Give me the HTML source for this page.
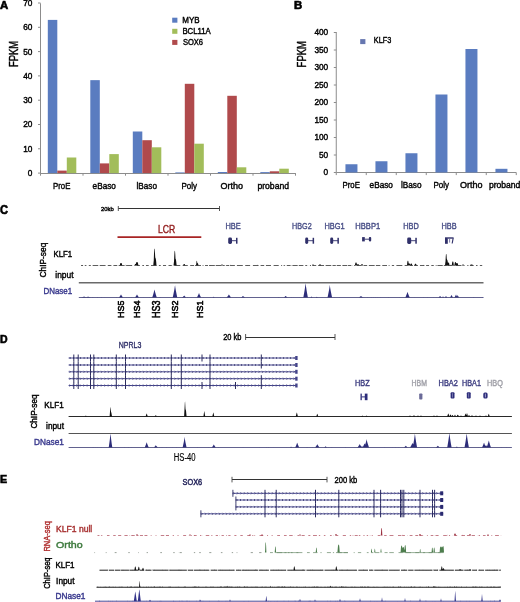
<!DOCTYPE html>
<html><head><meta charset="utf-8"><style>
html,body{margin:0;padding:0;background:#fff;}
svg{display:block;font-family:"Liberation Sans", sans-serif;will-change:transform;}
</style></head><body>
<svg width="520" height="602" viewBox="0 0 520 602">
<rect width="520" height="602" fill="#fff"/>
<text x="0.00" y="8.60" font-size="10.43" fill="#000" font-weight="bold" textLength="8.20" lengthAdjust="spacingAndGlyphs" stroke="#000" stroke-width="0.6">A</text>
<line x1="40.50" y1="3.30" x2="40.50" y2="173.10" stroke="#8c8c8c" stroke-width="1"/>
<line x1="38.00" y1="173.10" x2="40.50" y2="173.10" stroke="#8c8c8c" stroke-width="1"/>
<text x="27.80" y="176.05" font-size="8.43" fill="#000" font-weight="normal" textLength="4.60" lengthAdjust="spacingAndGlyphs" stroke="#000" stroke-width="0.4">0</text>
<line x1="38.00" y1="148.80" x2="40.50" y2="148.80" stroke="#8c8c8c" stroke-width="1"/>
<text x="23.20" y="151.75" font-size="8.43" fill="#000" font-weight="normal" textLength="9.20" lengthAdjust="spacingAndGlyphs" stroke="#000" stroke-width="0.4">10</text>
<line x1="38.00" y1="124.50" x2="40.50" y2="124.50" stroke="#8c8c8c" stroke-width="1"/>
<text x="23.20" y="127.45" font-size="8.43" fill="#000" font-weight="normal" textLength="9.20" lengthAdjust="spacingAndGlyphs" stroke="#000" stroke-width="0.4">20</text>
<line x1="38.00" y1="100.20" x2="40.50" y2="100.20" stroke="#8c8c8c" stroke-width="1"/>
<text x="23.20" y="103.15" font-size="8.43" fill="#000" font-weight="normal" textLength="9.20" lengthAdjust="spacingAndGlyphs" stroke="#000" stroke-width="0.4">30</text>
<line x1="38.00" y1="75.90" x2="40.50" y2="75.90" stroke="#8c8c8c" stroke-width="1"/>
<text x="23.20" y="78.85" font-size="8.43" fill="#000" font-weight="normal" textLength="9.20" lengthAdjust="spacingAndGlyphs" stroke="#000" stroke-width="0.4">40</text>
<line x1="38.00" y1="51.60" x2="40.50" y2="51.60" stroke="#8c8c8c" stroke-width="1"/>
<text x="23.20" y="54.55" font-size="8.43" fill="#000" font-weight="normal" textLength="9.20" lengthAdjust="spacingAndGlyphs" stroke="#000" stroke-width="0.4">50</text>
<line x1="38.00" y1="27.30" x2="40.50" y2="27.30" stroke="#8c8c8c" stroke-width="1"/>
<text x="23.20" y="30.25" font-size="8.43" fill="#000" font-weight="normal" textLength="9.20" lengthAdjust="spacingAndGlyphs" stroke="#000" stroke-width="0.4">60</text>
<line x1="38.00" y1="3.00" x2="40.50" y2="3.00" stroke="#8c8c8c" stroke-width="1"/>
<text x="23.20" y="5.95" font-size="8.43" fill="#000" font-weight="normal" textLength="9.20" lengthAdjust="spacingAndGlyphs" stroke="#000" stroke-width="0.4">70</text>
<line x1="40.50" y1="173.50" x2="295.50" y2="173.50" stroke="#8c8c8c" stroke-width="1"/>
<line x1="83.00" y1="173.10" x2="83.00" y2="175.70" stroke="#8c8c8c" stroke-width="1"/>
<line x1="40.50" y1="173.10" x2="40.50" y2="175.70" stroke="#8c8c8c" stroke-width="1"/>
<rect x="47.80" y="19.90" width="9.50" height="153.20" fill="#5a7cc0"/>
<rect x="57.30" y="170.60" width="9.50" height="2.50" fill="#b04a4c"/>
<rect x="66.80" y="157.50" width="9.50" height="15.60" fill="#a2bd5a"/>
<text x="53.10" y="188.50" font-size="9.13" fill="#000" font-weight="normal" textLength="17.30" lengthAdjust="spacingAndGlyphs" stroke="#000" stroke-width="0.4">ProE</text>
<line x1="125.50" y1="173.10" x2="125.50" y2="175.70" stroke="#8c8c8c" stroke-width="1"/>
<rect x="90.30" y="80.15" width="9.50" height="92.95" fill="#5a7cc0"/>
<rect x="99.80" y="163.40" width="9.50" height="9.70" fill="#b04a4c"/>
<rect x="109.30" y="154.10" width="9.50" height="19.00" fill="#a2bd5a"/>
<text x="92.60" y="188.50" font-size="9.13" fill="#000" font-weight="normal" textLength="23.30" lengthAdjust="spacingAndGlyphs" stroke="#000" stroke-width="0.4">eBaso</text>
<line x1="168.00" y1="173.10" x2="168.00" y2="175.70" stroke="#8c8c8c" stroke-width="1"/>
<rect x="132.80" y="131.50" width="9.50" height="41.60" fill="#5a7cc0"/>
<rect x="142.30" y="140.20" width="9.50" height="32.90" fill="#b04a4c"/>
<rect x="151.80" y="147.30" width="9.50" height="25.80" fill="#a2bd5a"/>
<text x="136.50" y="188.50" font-size="9.13" fill="#000" font-weight="normal" textLength="20.50" lengthAdjust="spacingAndGlyphs" stroke="#000" stroke-width="0.4">lBaso</text>
<line x1="210.50" y1="173.10" x2="210.50" y2="175.70" stroke="#8c8c8c" stroke-width="1"/>
<rect x="175.30" y="172.40" width="9.50" height="0.70" fill="#5a7cc0"/>
<rect x="184.80" y="83.80" width="9.50" height="89.30" fill="#b04a4c"/>
<rect x="194.30" y="143.70" width="9.50" height="29.40" fill="#a2bd5a"/>
<text x="181.50" y="188.50" font-size="9.13" fill="#000" font-weight="normal" textLength="15.50" lengthAdjust="spacingAndGlyphs" stroke="#000" stroke-width="0.4">Poly</text>
<line x1="253.00" y1="173.10" x2="253.00" y2="175.70" stroke="#8c8c8c" stroke-width="1"/>
<rect x="217.80" y="172.00" width="9.50" height="1.10" fill="#5a7cc0"/>
<rect x="227.30" y="95.80" width="9.50" height="77.30" fill="#b04a4c"/>
<rect x="236.80" y="167.30" width="9.50" height="5.80" fill="#a2bd5a"/>
<text x="220.50" y="188.50" font-size="9.13" fill="#000" font-weight="normal" textLength="22.50" lengthAdjust="spacingAndGlyphs" stroke="#000" stroke-width="0.4">Ortho</text>
<line x1="295.50" y1="173.10" x2="295.50" y2="175.70" stroke="#8c8c8c" stroke-width="1"/>
<rect x="260.30" y="172.10" width="9.50" height="1.00" fill="#5a7cc0"/>
<rect x="269.80" y="171.30" width="9.50" height="1.80" fill="#b04a4c"/>
<rect x="279.30" y="168.70" width="9.50" height="4.40" fill="#a2bd5a"/>
<text x="257.40" y="188.50" font-size="9.13" fill="#000" font-weight="normal" textLength="31.70" lengthAdjust="spacingAndGlyphs" stroke="#000" stroke-width="0.4">proband</text>
<text transform="translate(17.80,67.00) rotate(-90)" x="0" y="0" font-size="11.88" fill="#000" font-weight="normal" textLength="26.20" lengthAdjust="spacingAndGlyphs" stroke="#000" stroke-width="0.4">FPKM</text>
<rect x="172.20" y="17.70" width="5.20" height="5.00" fill="#5a7cc0"/>
<text x="182.30" y="23.20" font-size="8.70" fill="#000" font-weight="normal" textLength="17.30" lengthAdjust="spacingAndGlyphs" stroke="#000" stroke-width="0.4">MYB</text>
<rect x="172.20" y="28.80" width="5.20" height="5.00" fill="#a2bd5a"/>
<text x="182.40" y="34.30" font-size="8.70" fill="#000" font-weight="normal" textLength="28.40" lengthAdjust="spacingAndGlyphs" stroke="#000" stroke-width="0.4">BCL11A</text>
<rect x="172.20" y="39.90" width="5.20" height="5.00" fill="#b04a4c"/>
<text x="182.90" y="45.40" font-size="8.70" fill="#000" font-weight="normal" textLength="20.20" lengthAdjust="spacingAndGlyphs" stroke="#000" stroke-width="0.4">SOX6</text>
<text x="294.00" y="8.50" font-size="10.87" fill="#000" font-weight="bold" textLength="8.20" lengthAdjust="spacingAndGlyphs" stroke="#000" stroke-width="0.6">B</text>
<line x1="336.25" y1="32.00" x2="336.25" y2="172.50" stroke="#8c8c8c" stroke-width="1"/>
<line x1="333.80" y1="172.50" x2="336.25" y2="172.50" stroke="#8c8c8c" stroke-width="1"/>
<text x="323.60" y="175.45" font-size="8.43" fill="#000" font-weight="normal" textLength="4.60" lengthAdjust="spacingAndGlyphs" stroke="#000" stroke-width="0.4">0</text>
<line x1="333.80" y1="155.00" x2="336.25" y2="155.00" stroke="#8c8c8c" stroke-width="1"/>
<text x="319.00" y="157.95" font-size="8.43" fill="#000" font-weight="normal" textLength="9.20" lengthAdjust="spacingAndGlyphs" stroke="#000" stroke-width="0.4">50</text>
<line x1="333.80" y1="137.50" x2="336.25" y2="137.50" stroke="#8c8c8c" stroke-width="1"/>
<text x="314.40" y="140.45" font-size="8.43" fill="#000" font-weight="normal" textLength="13.80" lengthAdjust="spacingAndGlyphs" stroke="#000" stroke-width="0.4">100</text>
<line x1="333.80" y1="120.00" x2="336.25" y2="120.00" stroke="#8c8c8c" stroke-width="1"/>
<text x="314.40" y="122.95" font-size="8.43" fill="#000" font-weight="normal" textLength="13.80" lengthAdjust="spacingAndGlyphs" stroke="#000" stroke-width="0.4">150</text>
<line x1="333.80" y1="102.50" x2="336.25" y2="102.50" stroke="#8c8c8c" stroke-width="1"/>
<text x="314.40" y="105.45" font-size="8.43" fill="#000" font-weight="normal" textLength="13.80" lengthAdjust="spacingAndGlyphs" stroke="#000" stroke-width="0.4">200</text>
<line x1="333.80" y1="85.00" x2="336.25" y2="85.00" stroke="#8c8c8c" stroke-width="1"/>
<text x="314.40" y="87.95" font-size="8.43" fill="#000" font-weight="normal" textLength="13.80" lengthAdjust="spacingAndGlyphs" stroke="#000" stroke-width="0.4">250</text>
<line x1="333.80" y1="67.50" x2="336.25" y2="67.50" stroke="#8c8c8c" stroke-width="1"/>
<text x="314.40" y="70.45" font-size="8.43" fill="#000" font-weight="normal" textLength="13.80" lengthAdjust="spacingAndGlyphs" stroke="#000" stroke-width="0.4">300</text>
<line x1="333.80" y1="50.00" x2="336.25" y2="50.00" stroke="#8c8c8c" stroke-width="1"/>
<text x="314.40" y="52.95" font-size="8.43" fill="#000" font-weight="normal" textLength="13.80" lengthAdjust="spacingAndGlyphs" stroke="#000" stroke-width="0.4">350</text>
<line x1="333.80" y1="32.50" x2="336.25" y2="32.50" stroke="#8c8c8c" stroke-width="1"/>
<text x="314.40" y="35.45" font-size="8.43" fill="#000" font-weight="normal" textLength="13.80" lengthAdjust="spacingAndGlyphs" stroke="#000" stroke-width="0.4">400</text>
<line x1="336.25" y1="172.50" x2="516.25" y2="172.50" stroke="#8c8c8c" stroke-width="1"/>
<line x1="366.25" y1="172.50" x2="366.25" y2="175.10" stroke="#8c8c8c" stroke-width="1"/>
<line x1="336.25" y1="172.50" x2="336.25" y2="175.10" stroke="#8c8c8c" stroke-width="1"/>
<rect x="345.45" y="164.25" width="12.00" height="8.25" fill="#5a7cc0"/>
<text x="342.60" y="188.00" font-size="8.99" fill="#000" font-weight="normal" textLength="17.30" lengthAdjust="spacingAndGlyphs" stroke="#000" stroke-width="0.4">ProE</text>
<line x1="396.25" y1="172.50" x2="396.25" y2="175.10" stroke="#8c8c8c" stroke-width="1"/>
<rect x="375.45" y="161.25" width="12.00" height="11.25" fill="#5a7cc0"/>
<text x="369.60" y="188.00" font-size="8.99" fill="#000" font-weight="normal" textLength="23.30" lengthAdjust="spacingAndGlyphs" stroke="#000" stroke-width="0.4">eBaso</text>
<line x1="426.25" y1="172.50" x2="426.25" y2="175.10" stroke="#8c8c8c" stroke-width="1"/>
<rect x="405.45" y="153.25" width="12.00" height="19.25" fill="#5a7cc0"/>
<text x="401.00" y="188.00" font-size="8.99" fill="#000" font-weight="normal" textLength="20.50" lengthAdjust="spacingAndGlyphs" stroke="#000" stroke-width="0.4">lBaso</text>
<line x1="456.25" y1="172.50" x2="456.25" y2="175.10" stroke="#8c8c8c" stroke-width="1"/>
<rect x="435.45" y="94.50" width="12.00" height="78.00" fill="#5a7cc0"/>
<text x="433.50" y="188.00" font-size="8.99" fill="#000" font-weight="normal" textLength="15.50" lengthAdjust="spacingAndGlyphs" stroke="#000" stroke-width="0.4">Poly</text>
<line x1="486.25" y1="172.50" x2="486.25" y2="175.10" stroke="#8c8c8c" stroke-width="1"/>
<rect x="465.45" y="49.00" width="12.00" height="123.50" fill="#5a7cc0"/>
<text x="460.00" y="188.00" font-size="8.99" fill="#000" font-weight="normal" textLength="22.50" lengthAdjust="spacingAndGlyphs" stroke="#000" stroke-width="0.4">Ortho</text>
<line x1="516.25" y1="172.50" x2="516.25" y2="175.10" stroke="#8c8c8c" stroke-width="1"/>
<rect x="495.45" y="168.80" width="12.00" height="3.70" fill="#5a7cc0"/>
<text x="488.90" y="188.00" font-size="8.99" fill="#000" font-weight="normal" textLength="31.50" lengthAdjust="spacingAndGlyphs" stroke="#000" stroke-width="0.4">proband</text>
<text transform="translate(306.00,67.40) rotate(-90)" x="0" y="0" font-size="12.17" fill="#000" font-weight="normal" textLength="26.40" lengthAdjust="spacingAndGlyphs" stroke="#000" stroke-width="0.4">FPKM</text>
<rect x="360.20" y="39.10" width="5.20" height="5.00" fill="#6677b0"/>
<text x="373.80" y="43.00" font-size="8.70" fill="#000" font-weight="normal" textLength="17.40" lengthAdjust="spacingAndGlyphs" stroke="#000" stroke-width="0.4">KLF3</text>
<text x="0.00" y="213.70" font-size="12.61" fill="#000" font-weight="bold" textLength="8.00" lengthAdjust="spacingAndGlyphs" stroke="#000" stroke-width="0.6">C</text>
<text x="101.00" y="210.70" font-size="6.23" fill="#000" font-weight="normal" textLength="12.80" lengthAdjust="spacingAndGlyphs" stroke="#000" stroke-width="0.4">20kb</text>
<line x1="118.30" y1="208.50" x2="219.50" y2="208.50" stroke="#333" stroke-width="1.0"/>
<line x1="118.30" y1="206.00" x2="118.30" y2="211.00" stroke="#444" stroke-width="0.9"/>
<line x1="219.50" y1="206.00" x2="219.50" y2="211.00" stroke="#444" stroke-width="0.9"/>
<text x="158.00" y="233.00" font-size="10.29" fill="#921c1c" font-weight="normal" textLength="17.20" lengthAdjust="spacingAndGlyphs" stroke="#921c1c" stroke-width="0.4">LCR</text>
<line x1="117.50" y1="237.10" x2="201.30" y2="237.10" stroke="#a82424" stroke-width="1.8"/>
<text x="225.50" y="228.60" font-size="8.99" fill="#4a5088" font-weight="normal" textLength="15.30" lengthAdjust="spacingAndGlyphs" stroke="#4a5088" stroke-width="0.4">HBE</text>
<text x="292.10" y="228.60" font-size="8.99" fill="#4a5088" font-weight="normal" textLength="19.60" lengthAdjust="spacingAndGlyphs" stroke="#4a5088" stroke-width="0.4">HBG2</text>
<text x="324.40" y="228.60" font-size="8.99" fill="#4a5088" font-weight="normal" textLength="20.20" lengthAdjust="spacingAndGlyphs" stroke="#4a5088" stroke-width="0.4">HBG1</text>
<text x="355.30" y="228.60" font-size="8.99" fill="#4a5088" font-weight="normal" textLength="24.90" lengthAdjust="spacingAndGlyphs" stroke="#4a5088" stroke-width="0.4">HBBP1</text>
<text x="403.20" y="228.60" font-size="8.99" fill="#4a5088" font-weight="normal" textLength="15.60" lengthAdjust="spacingAndGlyphs" stroke="#4a5088" stroke-width="0.4">HBD</text>
<text x="441.50" y="228.60" font-size="8.99" fill="#4a5088" font-weight="normal" textLength="15.10" lengthAdjust="spacingAndGlyphs" stroke="#4a5088" stroke-width="0.4">HBB</text>
<rect x="228.20" y="237.50" width="3.80" height="6.40" rx="1.4" fill="#30306a"/>
<line x1="231.80" y1="240.70" x2="236.60" y2="240.70" stroke="#30306a" stroke-width="0.9"/>
<rect x="236.00" y="237.80" width="1.5" height="5.90" fill="#30306a"/>
<rect x="305.20" y="237.50" width="3.00" height="6.40" rx="1.4" fill="#30306a"/>
<line x1="308.00" y1="240.70" x2="313.20" y2="240.70" stroke="#30306a" stroke-width="0.9"/>
<rect x="312.60" y="237.80" width="1.5" height="5.90" fill="#30306a"/>
<rect x="330.20" y="237.50" width="3.00" height="6.40" rx="1.4" fill="#30306a"/>
<line x1="333.00" y1="240.70" x2="338.00" y2="240.70" stroke="#30306a" stroke-width="0.9"/>
<rect x="337.40" y="237.80" width="1.5" height="5.90" fill="#30306a"/>
<rect x="407.20" y="237.50" width="4.00" height="6.40" rx="1.4" fill="#30306a"/>
<line x1="411.00" y1="240.70" x2="415.90" y2="240.70" stroke="#30306a" stroke-width="0.9"/>
<rect x="415.30" y="237.80" width="1.5" height="5.90" fill="#30306a"/>
<rect x="362.1" y="237.1" width="2.7" height="4.3" fill="#30306a"/>
<line x1="364.5" y1="239.2" x2="369" y2="239.2" stroke="#30306a" stroke-width="0.9"/>
<rect x="368.9" y="237.1" width="2.3" height="4.3" rx="0.8" fill="#30306a"/>
<rect x="445.0" y="237.3" width="2.8" height="6.5" fill="#30306a"/>
<rect x="447.6" y="237.3" width="6.0" height="1.4" fill="#30306a"/>
<path d="M452.6,238.2 L453.7,238.2 L452.7,243.6 L451.6,243.6 Z" fill="#30306a"/>
<rect x="449.2" y="238.6" width="0.9" height="4.0" fill="#7070a0"/>
<text transform="translate(46.30,277.40) rotate(-90)" x="0" y="0" font-size="8.41" fill="#000" font-weight="normal" textLength="34.70" lengthAdjust="spacingAndGlyphs" stroke="#000" stroke-width="0.4">ChIP-seq</text>
<text x="53.60" y="256.70" font-size="8.84" fill="#000" font-weight="normal" textLength="18.60" lengthAdjust="spacingAndGlyphs" stroke="#000" stroke-width="0.4">KLF1</text>
<text x="55.30" y="277.80" font-size="9.13" fill="#000" font-weight="normal" textLength="18.30" lengthAdjust="spacingAndGlyphs" stroke="#000" stroke-width="0.4">input</text>
<text x="43.40" y="293.50" font-size="8.99" fill="#3a3a8e" font-weight="normal" textLength="28.80" lengthAdjust="spacingAndGlyphs" stroke="#3a3a8e" stroke-width="0.4">DNase1</text>
<polygon points="81.00,265.50 82.25,265.50 82.50,264.66 82.75,265.50 108.75,265.50 109.00,265.08 109.25,265.50 109.50,264.88 109.75,265.50 111.50,265.50 111.75,265.44 112.00,265.50 115.00,265.50 115.25,264.93 115.50,265.50 119.75,265.50 120.00,264.40 120.25,263.53 120.50,263.09 120.75,262.92 121.00,262.90 121.25,262.92 121.50,263.09 121.75,263.53 122.00,264.40 122.25,265.50 125.50,265.50 125.75,264.56 126.00,265.50 131.75,265.50 132.00,264.75 132.25,265.50 134.50,265.50 134.75,264.63 135.00,264.19 135.25,264.02 135.50,264.00 135.75,264.02 136.00,263.28 136.25,262.54 136.50,262.16 136.75,262.02 137.00,262.00 137.25,262.02 137.50,262.16 137.75,262.54 138.00,263.28 138.25,264.49 138.50,265.50 139.50,265.50 139.75,265.45 140.00,265.50 153.25,265.50 153.50,262.86 153.75,260.47 154.00,253.54 154.25,249.13 154.50,248.50 154.75,249.13 155.00,253.54 155.25,257.58 155.50,257.92 155.75,258.70 156.00,260.10 156.25,262.31 156.50,265.50 171.75,265.50 172.00,265.02 172.25,265.50 173.50,265.50 173.75,263.60 174.00,261.26 174.25,256.60 174.50,251.74 174.75,250.80 175.00,251.08 175.25,253.98 175.50,258.63 175.75,259.07 176.00,260.01 176.25,261.65 176.50,264.19 176.75,265.50 183.00,265.50 183.25,265.27 183.50,264.45 183.75,264.05 184.00,263.91 184.25,263.90 184.50,263.94 184.75,264.17 185.00,264.72 185.25,265.50 195.75,265.50 196.00,264.97 196.25,263.98 196.50,261.39 196.75,260.80 197.00,260.97 197.25,262.78 197.50,263.03 197.75,263.19 198.00,263.58 198.25,264.32 198.50,265.50 210.00,265.50 210.25,264.73 210.50,265.50 221.00,265.50 221.25,264.92 221.50,264.62 221.75,264.52 222.00,264.50 222.25,264.52 222.50,264.62 222.75,264.92 223.00,265.50 225.25,265.50 225.50,265.29 225.75,265.50 227.50,265.50 227.75,265.39 228.00,265.50 228.50,265.50 228.75,265.05 229.00,265.50 230.00,265.50 230.25,264.53 230.50,265.50 247.25,265.50 247.50,265.03 247.75,265.50 254.00,265.50 254.25,265.27 254.50,265.50 257.50,265.50 257.75,264.53 258.00,265.50 281.50,265.50 281.75,265.37 282.00,265.50 284.75,265.50 285.00,265.07 285.25,265.50 291.00,265.50 291.25,264.86 291.50,265.50 307.75,265.50 308.00,265.22 308.25,265.50 312.00,265.50 312.25,264.92 312.50,264.62 312.75,264.52 313.00,264.50 313.25,264.52 313.50,264.62 313.75,264.92 314.00,265.50 319.00,265.50 319.25,264.81 319.50,264.45 319.75,264.32 320.00,264.30 320.25,264.32 320.50,264.45 320.75,264.81 321.00,265.50 325.50,265.50 325.75,264.63 326.00,265.50 343.00,265.50 343.25,264.96 343.50,265.50 347.75,265.50 348.00,265.15 348.25,264.67 348.50,265.50 352.25,265.50 352.50,265.02 352.75,265.50 354.75,265.50 355.00,264.75 355.25,263.45 355.50,262.78 355.75,262.54 356.00,262.50 356.25,262.54 356.50,262.78 356.75,263.45 357.00,264.75 357.25,264.63 357.50,264.19 357.75,264.02 358.00,264.00 358.25,264.02 358.50,264.19 358.75,264.63 359.00,265.50 361.00,265.50 361.25,264.63 361.50,264.19 361.75,264.02 362.00,264.00 362.25,264.02 362.50,264.19 362.75,264.63 363.00,265.50 382.00,265.50 382.25,264.82 382.50,265.50 407.00,265.50 407.25,262.57 407.50,261.21 407.75,260.82 408.00,260.81 408.25,261.08 408.50,262.19 408.75,263.51 409.00,263.50 409.25,263.51 409.50,263.57 409.75,263.75 410.00,264.09 410.25,264.66 410.50,264.52 410.75,263.83 411.00,263.55 411.25,263.50 411.50,263.52 411.75,263.68 412.00,264.19 412.25,265.21 412.50,265.50 414.25,265.50 414.50,265.09 414.75,264.41 415.00,264.09 415.25,263.78 415.50,263.70 415.75,263.71 416.00,263.82 416.25,264.19 416.50,265.01 416.75,265.50 423.50,265.50 423.75,265.03 424.00,264.79 424.25,265.50 430.25,265.50 430.50,265.43 430.75,265.50 432.50,265.50 432.75,265.19 433.00,265.50 445.00,265.50 445.25,263.10 445.50,261.45 445.75,256.41 446.00,254.12 446.25,253.90 446.50,254.64 446.75,258.47 447.00,259.59 447.25,259.90 447.50,260.57 447.75,261.73 448.00,262.88 448.25,262.55 448.50,262.50 448.75,262.55 449.00,262.88 449.25,263.77 449.50,265.50 450.50,265.50 450.75,264.55 451.00,265.50 451.75,265.50 452.00,263.55 452.25,262.17 452.50,261.61 452.75,261.50 453.00,261.53 453.25,261.86 453.50,262.87 453.75,264.93 454.00,265.50 454.25,265.50 454.50,264.55 454.75,262.96 455.00,262.22 455.25,262.01 455.50,262.00 455.75,262.15 456.00,262.76 456.25,263.61 456.50,263.18 456.75,263.02 457.00,263.00 457.25,263.02 457.50,263.18 457.75,263.61 458.00,264.45 458.25,265.50 462.00,265.50 462.25,264.92 462.50,264.62 462.75,264.52 463.00,264.50 463.25,264.52 463.50,264.62 463.75,264.63 464.00,265.50 469.75,265.50 470.00,264.96 470.25,265.08 470.50,264.80 470.75,264.62 471.00,264.54 471.25,264.50 471.50,264.50 471.75,264.50 472.00,264.54 472.25,264.62 472.50,264.80 472.75,265.08 473.00,265.50 479.00,265.50 479.25,265.29 479.50,265.50 481.75,265.50 482.00,265.31 482.25,265.50 483.50,265.50" fill="#111"/>
<path d="M81.00,265.50h2.07M84.77,265.50h1.64M88.82,265.50h2.00M92.64,265.50h5.62M99.73,265.50h5.83M107.77,265.50h3.65M113.41,265.50h3.85M118.65,265.50h5.98M126.12,265.50h5.92M134.51,265.50h0.95M136.62,265.50h3.28M142.30,265.50h1.72M145.98,265.50h2.71M151.02,265.50h5.62M158.91,265.50h1.81M162.99,265.50h3.08M168.51,265.50h3.24M174.35,265.50h5.93M182.69,265.50h5.10M190.19,265.50h3.88M195.05,265.50h5.93M202.60,265.50h0.88M205.04,265.50h2.96M209.04,265.50h5.79M215.68,265.50h5.50M222.99,265.50h1.73M226.11,265.50h3.14M230.11,265.50h4.77M236.91,265.50h5.91M245.24,265.50h4.89M252.92,265.50h5.65M260.59,265.50h3.60M265.94,265.50h5.03M273.61,265.50h5.12M281.18,265.50h0.94M283.64,265.50h1.25M286.78,265.50h3.82M292.43,265.50h5.26M298.79,265.50h4.59M305.27,265.50h1.91M309.93,265.50h1.08M312.63,265.50h3.58M318.13,265.50h5.91M325.85,265.50h5.41M332.51,265.50h3.30M336.73,265.50h4.13M342.39,265.50h4.88M348.12,265.50h3.21M354.04,265.50h0.86M356.95,265.50h4.32M363.47,265.50h3.70M368.87,265.50h5.79M375.88,265.50h4.46M382.41,265.50h4.59M388.65,265.50h0.89M391.85,265.50h2.25M396.42,265.50h5.93M404.66,265.50h2.90M410.04,265.50h2.81M414.15,265.50h3.77M419.96,265.50h4.37M426.14,265.50h2.93M431.30,265.50h2.49M435.72,265.50h0.83M437.44,265.50h5.31M443.82,265.50h2.95M447.49,265.50h4.78M453.59,265.50h1.05M455.84,265.50h5.64M463.75,265.50h0.82M467.26,265.50h1.18M470.10,265.50h3.58M476.00,265.50h1.54M479.95,265.50h2.23" stroke="#333" stroke-width="0.8" fill="none"/>
<line x1="78.80" y1="282.70" x2="483.50" y2="282.70" stroke="#6a6a6a" stroke-width="1.4"/>
<polygon points="78.80,297.50 80.05,297.50 80.30,297.17 80.55,297.50 81.05,297.49 81.30,297.42 81.55,297.35 81.80,297.29 82.05,297.22 82.30,297.15 82.55,297.07 82.80,296.99 83.05,296.92 83.30,296.83 83.55,296.74 83.80,296.64 84.05,296.56 84.30,296.68 84.55,296.78 84.80,296.87 85.05,296.95 85.30,297.03 85.55,297.10 85.80,297.17 86.05,297.24 86.30,297.24 86.55,297.16 86.80,297.07 87.05,296.98 87.30,296.88 87.55,296.77 87.80,296.66 88.05,296.57 88.30,296.71 88.55,296.82 88.80,296.92 89.05,297.01 89.30,297.10 89.55,297.19 89.80,297.28 90.05,297.03 90.30,297.44 90.55,297.50 92.30,297.50 92.55,296.98 92.80,297.50 93.05,296.95 93.30,297.50 97.30,297.50 97.55,296.84 97.80,297.50 101.30,297.50 101.55,296.81 101.80,297.50 103.80,297.50 104.05,297.15 104.30,297.50 116.05,297.50 116.30,297.12 116.55,297.50 118.80,297.50 119.05,297.44 119.30,297.12 119.55,296.79 119.80,296.45 120.05,296.09 120.30,295.72 120.55,295.32 120.80,294.86 121.05,294.53 121.30,295.05 121.55,295.48 121.80,295.87 122.05,296.24 122.30,296.59 122.55,296.92 122.80,297.25 123.05,297.50 124.80,297.50 125.05,297.39 125.30,297.50 126.30,297.50 126.55,297.17 126.80,297.50 128.05,297.50 128.30,297.17 128.55,297.50 129.55,297.50 129.80,297.22 130.05,297.50 131.05,297.50 131.30,297.07 131.55,297.50 134.80,297.50 135.05,297.44 135.30,297.10 135.55,296.77 135.80,296.41 136.05,296.05 136.30,295.66 136.55,295.24 136.80,294.77 137.05,294.43 137.30,294.97 137.55,295.41 137.80,295.82 138.05,296.19 138.30,296.56 138.55,296.90 138.80,297.24 139.05,297.50 143.30,297.50 143.55,297.13 143.80,297.50 149.55,297.50 149.80,297.32 150.05,297.50 150.80,297.50 151.05,296.96 151.30,297.50 152.05,297.50 152.30,297.21 152.55,296.46 152.80,295.69 153.05,294.90 153.30,294.08 153.55,293.23 153.80,292.33 154.05,291.36 154.30,290.27 154.55,289.47 154.80,290.73 155.05,291.76 155.30,292.70 155.55,293.57 155.80,294.41 156.05,295.22 156.30,296.00 156.55,296.76 156.80,297.50 159.05,297.50 159.30,296.99 159.55,297.50 160.05,297.50 160.30,296.91 160.55,297.50 163.30,297.50 163.55,297.42 163.80,297.50 172.55,297.50 172.80,297.05 173.05,295.92 173.30,294.76 173.55,293.57 173.80,292.33 174.05,291.04 174.30,289.68 174.55,288.21 174.80,286.56 175.05,285.35 175.30,287.25 175.55,288.81 175.80,290.23 176.05,291.56 176.30,292.83 176.55,294.05 176.80,295.23 177.05,296.38 177.30,297.50 181.80,297.50 182.05,297.36 182.30,296.88 182.55,297.35 182.80,297.11 183.05,296.85 183.30,296.58 183.55,296.30 183.80,295.99 184.05,295.64 184.30,295.55 184.55,295.92 184.80,296.24 185.05,296.53 185.30,296.80 185.55,297.06 185.80,297.31 186.05,297.50 187.30,297.50 187.55,296.85 187.80,297.50 190.80,297.50 191.05,297.34 191.30,297.50 195.80,297.50 196.05,297.12 196.30,297.50 196.80,297.50 197.05,297.23 197.30,296.78 197.55,296.31 197.80,295.82 198.05,295.32 198.30,294.78 198.55,294.21 198.80,293.56 199.05,293.09 199.30,293.84 199.55,294.45 199.80,295.00 200.05,295.52 200.30,296.02 200.55,296.50 200.80,296.96 201.05,297.41 201.30,297.50 203.55,297.50 203.80,297.12 204.05,297.50 210.05,297.50 210.30,297.36 210.55,297.50 212.55,297.50 212.80,297.36 213.05,297.17 213.30,296.97 213.55,296.71 213.80,296.87 214.05,297.09 214.30,297.29 214.55,297.47 220.05,297.50 220.30,297.09 220.55,297.50 226.55,297.50 226.80,297.10 227.05,297.08 227.30,296.77 227.55,296.45 227.80,296.12 228.05,295.77 228.30,295.41 228.55,295.00 228.80,294.53 229.05,294.64 229.30,295.09 229.55,295.48 229.80,295.84 230.05,296.19 230.30,296.52 230.55,296.83 230.80,297.14 231.05,297.44 231.30,297.50 231.80,297.50 232.05,297.38 232.30,297.50 234.80,297.50 235.05,297.14 235.30,297.50 236.05,297.50 236.30,297.28 236.55,297.50 241.05,297.47 241.30,297.30 241.55,297.13 241.80,296.96 242.05,296.77 242.30,296.58 242.55,296.37 242.80,296.14 243.05,295.96 243.30,296.24 243.55,296.46 243.80,296.66 244.05,296.85 244.30,297.03 244.55,297.20 244.80,297.37 245.05,297.50 246.80,297.50 247.05,297.23 247.30,297.50 255.80,297.50 256.05,297.42 256.30,297.50 278.30,297.50 278.55,296.96 278.80,297.50 279.05,297.32 279.30,297.50 283.80,297.50 284.05,297.39 284.30,297.20 284.55,297.01 284.80,296.81 285.05,296.60 285.30,296.37 285.55,296.10 285.80,296.04 286.05,296.32 286.30,296.55 286.55,296.77 286.80,296.97 287.05,297.17 287.30,297.35 287.55,297.50 291.55,297.50 291.80,296.92 292.05,297.50 293.30,297.50 293.55,297.37 293.80,297.50 299.80,297.50 300.05,296.96 300.30,297.50 301.55,297.50 301.80,297.23 302.05,297.50 302.30,297.29 302.55,297.50 303.30,297.50 303.55,296.19 303.80,294.85 304.05,293.46 304.30,292.04 304.55,290.56 304.80,289.00 305.05,287.34 305.30,285.52 305.55,283.29 305.80,284.71 306.05,286.64 306.30,288.35 306.55,289.94 306.80,291.45 307.05,292.90 307.30,294.30 307.55,295.66 307.80,296.98 308.05,297.50 310.55,297.50 310.80,297.32 311.05,297.09 311.30,296.83 311.55,296.52 311.80,296.72 312.05,296.99 312.30,297.23 312.55,297.46 315.80,297.50 316.05,297.32 316.30,297.09 316.55,296.92 316.80,296.64 317.05,296.92 317.30,297.13 317.55,297.32 317.80,297.50 321.80,297.50 322.05,296.97 322.30,297.50 327.30,297.50 327.55,297.28 327.80,296.16 328.05,295.02 328.30,293.84 328.55,292.62 328.80,291.35 329.05,290.02 329.30,288.59 329.55,287.00 329.80,284.86 330.05,287.00 330.30,288.59 330.55,290.02 330.80,291.35 331.05,292.62 331.30,293.84 331.55,295.02 331.80,296.16 332.05,297.28 332.30,297.50 333.80,297.50 334.05,296.82 334.30,297.50 339.30,297.50 339.55,297.10 339.80,297.50 359.05,297.47 359.30,297.30 359.55,297.13 359.80,296.84 360.05,296.77 360.30,296.58 360.55,296.37 360.80,296.14 361.05,295.96 361.30,296.24 361.55,296.46 361.80,296.66 362.05,296.85 362.30,297.03 362.55,297.20 362.80,297.37 363.05,297.50 363.30,297.50 363.55,296.95 363.80,297.50 364.05,297.50 364.30,297.13 364.55,297.50 367.30,297.50 367.55,297.04 367.80,297.50 371.55,297.50 371.80,296.96 372.05,297.50 373.30,297.50 373.55,296.94 373.80,297.50 375.30,297.50 375.55,296.88 375.80,297.50 377.55,297.50 377.80,297.20 378.05,297.50 380.55,297.50 380.80,297.18 381.05,297.50 387.80,297.50 388.05,297.40 388.30,297.50 388.55,297.50 388.80,297.12 389.05,297.50 399.05,297.50 399.30,297.14 399.55,297.50 405.30,297.50 405.55,296.95 405.80,296.39 406.05,295.82 406.30,295.22 406.55,294.59 406.80,293.94 407.05,293.23 407.30,292.43 407.55,291.85 407.80,292.77 408.05,293.52 408.30,294.20 408.55,294.85 408.80,295.46 409.05,296.05 409.30,296.62 409.55,297.17 409.80,297.50 412.30,297.50 412.55,297.42 412.80,297.50 414.30,297.50 414.55,297.18 414.80,297.50 423.55,297.50 423.80,296.93 424.05,297.50 426.80,297.50 427.05,297.15 427.30,297.50 427.55,297.50 427.80,297.34 428.05,297.50 428.80,297.50 429.05,297.41 429.30,297.50 433.55,297.50 433.80,297.29 434.05,297.50 436.05,297.50 436.30,297.32 436.55,297.50 438.55,297.46 438.80,297.24 439.05,297.00 439.30,296.76 439.55,296.50 439.80,296.20 440.05,295.99 440.30,296.33 440.55,296.61 440.80,296.86 441.05,297.09 441.30,297.32 441.55,297.29 441.80,297.50 442.05,297.45 442.30,297.18 442.55,296.89 442.80,296.56 443.05,296.32 443.30,296.70 443.55,297.01 443.80,297.29 444.05,297.50 444.80,297.50 445.05,297.22 445.30,296.93 445.55,296.62 445.80,296.27 446.05,296.01 446.30,296.41 446.55,296.75 446.80,297.05 447.05,297.34 447.30,297.50 449.80,297.50 450.05,297.43 450.30,297.06 450.55,296.67 450.80,296.27 451.05,295.83 451.30,295.34 451.55,294.98 451.80,295.55 452.05,296.01 452.30,296.43 452.55,296.83 452.80,297.21 453.05,297.50 454.30,297.50 454.55,297.34 454.80,296.97 455.05,296.51 455.30,296.02 455.55,295.50 455.80,294.91 456.05,294.47 456.30,295.15 456.55,295.71 456.80,296.22 457.05,296.45 457.30,295.92 457.55,295.31 457.80,295.17 458.05,295.81 458.30,296.35 458.55,296.85 458.80,297.32 459.05,297.50 473.05,297.50 473.30,296.83 473.55,297.50 473.80,297.50 474.05,297.37 474.30,297.50 477.05,297.50 477.30,297.42 477.55,297.50 482.55,297.50 482.80,296.87 483.05,297.50 483.30,297.32 483.55,297.50 483.50,297.50" fill="#2d2d7a"/>
<line x1="78.80" y1="297.50" x2="483.50" y2="297.50" stroke="#3a3a72" stroke-width="0.8"/>
<text transform="translate(124.20,318.00) rotate(-90)" x="0" y="0" font-size="9.57" fill="#000" font-weight="normal" textLength="17.40" lengthAdjust="spacingAndGlyphs" stroke="#000" stroke-width="0.55">HS5</text>
<text transform="translate(140.00,318.00) rotate(-90)" x="0" y="0" font-size="9.86" fill="#000" font-weight="normal" textLength="17.40" lengthAdjust="spacingAndGlyphs" stroke="#000" stroke-width="0.55">HS4</text>
<text transform="translate(159.50,318.00) rotate(-90)" x="0" y="0" font-size="10.00" fill="#000" font-weight="normal" textLength="17.40" lengthAdjust="spacingAndGlyphs" stroke="#000" stroke-width="0.55">HS3</text>
<text transform="translate(178.40,318.00) rotate(-90)" x="0" y="0" font-size="9.57" fill="#000" font-weight="normal" textLength="17.40" lengthAdjust="spacingAndGlyphs" stroke="#000" stroke-width="0.55">HS2</text>
<text transform="translate(203.40,318.00) rotate(-90)" x="0" y="0" font-size="9.57" fill="#000" font-weight="normal" textLength="17.40" lengthAdjust="spacingAndGlyphs" stroke="#000" stroke-width="0.55">HS1</text>
<text x="0.00" y="342.80" font-size="11.30" fill="#000" font-weight="bold" textLength="7.60" lengthAdjust="spacingAndGlyphs" stroke="#000" stroke-width="0.6">D</text>
<text x="223.20" y="340.20" font-size="8.41" fill="#000" font-weight="normal" textLength="18.20" lengthAdjust="spacingAndGlyphs" stroke="#000" stroke-width="0.4">20 kb</text>
<line x1="245.60" y1="337.50" x2="335.00" y2="337.50" stroke="#333" stroke-width="1.0"/>
<line x1="245.60" y1="334.00" x2="245.60" y2="340.00" stroke="#444" stroke-width="0.9"/>
<line x1="335.00" y1="334.00" x2="335.00" y2="340.00" stroke="#444" stroke-width="0.9"/>
<text x="118.80" y="348.00" font-size="9.86" fill="#30306a" font-weight="normal" textLength="22.50" lengthAdjust="spacingAndGlyphs" stroke="#30306a" stroke-width="0.4">NPRL3</text>
<line x1="68.60" y1="358.00" x2="297.00" y2="358.00" stroke="#4a4a92" stroke-width="1.0"/>
<path d="M69.60,357.00L70.60,358.00L69.60,359.00M73.10,357.00L74.10,358.00L73.10,359.00M76.60,357.00L77.60,358.00L76.60,359.00M80.10,357.00L81.10,358.00L80.10,359.00M83.60,357.00L84.60,358.00L83.60,359.00M87.10,357.00L88.10,358.00L87.10,359.00M90.60,357.00L91.60,358.00L90.60,359.00M94.10,357.00L95.10,358.00L94.10,359.00M97.60,357.00L98.60,358.00L97.60,359.00M101.10,357.00L102.10,358.00L101.10,359.00M104.60,357.00L105.60,358.00L104.60,359.00M108.10,357.00L109.10,358.00L108.10,359.00M111.60,357.00L112.60,358.00L111.60,359.00M115.10,357.00L116.10,358.00L115.10,359.00M118.60,357.00L119.60,358.00L118.60,359.00M122.10,357.00L123.10,358.00L122.10,359.00M125.60,357.00L126.60,358.00L125.60,359.00M129.10,357.00L130.10,358.00L129.10,359.00M132.60,357.00L133.60,358.00L132.60,359.00M136.10,357.00L137.10,358.00L136.10,359.00M139.60,357.00L140.60,358.00L139.60,359.00M143.10,357.00L144.10,358.00L143.10,359.00M146.60,357.00L147.60,358.00L146.60,359.00M150.10,357.00L151.10,358.00L150.10,359.00M153.60,357.00L154.60,358.00L153.60,359.00M157.10,357.00L158.10,358.00L157.10,359.00M160.60,357.00L161.60,358.00L160.60,359.00M164.10,357.00L165.10,358.00L164.10,359.00M167.60,357.00L168.60,358.00L167.60,359.00M171.10,357.00L172.10,358.00L171.10,359.00M174.60,357.00L175.60,358.00L174.60,359.00M178.10,357.00L179.10,358.00L178.10,359.00M181.60,357.00L182.60,358.00L181.60,359.00M185.10,357.00L186.10,358.00L185.10,359.00M188.60,357.00L189.60,358.00L188.60,359.00M192.10,357.00L193.10,358.00L192.10,359.00M195.60,357.00L196.60,358.00L195.60,359.00M199.10,357.00L200.10,358.00L199.10,359.00M202.60,357.00L203.60,358.00L202.60,359.00M206.10,357.00L207.10,358.00L206.10,359.00M209.60,357.00L210.60,358.00L209.60,359.00M213.10,357.00L214.10,358.00L213.10,359.00M216.60,357.00L217.60,358.00L216.60,359.00M220.10,357.00L221.10,358.00L220.10,359.00M223.60,357.00L224.60,358.00L223.60,359.00M227.10,357.00L228.10,358.00L227.10,359.00M230.60,357.00L231.60,358.00L230.60,359.00M234.10,357.00L235.10,358.00L234.10,359.00M237.60,357.00L238.60,358.00L237.60,359.00M241.10,357.00L242.10,358.00L241.10,359.00M244.60,357.00L245.60,358.00L244.60,359.00M248.10,357.00L249.10,358.00L248.10,359.00M251.60,357.00L252.60,358.00L251.60,359.00M255.10,357.00L256.10,358.00L255.10,359.00M258.60,357.00L259.60,358.00L258.60,359.00M262.10,357.00L263.10,358.00L262.10,359.00M265.60,357.00L266.60,358.00L265.60,359.00M269.10,357.00L270.10,358.00L269.10,359.00M272.60,357.00L273.60,358.00L272.60,359.00M276.10,357.00L277.10,358.00L276.10,359.00M279.60,357.00L280.60,358.00L279.60,359.00M283.10,357.00L284.10,358.00L283.10,359.00M286.60,357.00L287.60,358.00L286.60,359.00M290.10,357.00L291.10,358.00L290.10,359.00M293.60,357.00L294.60,358.00L293.60,359.00" stroke="#38386e" stroke-width="0.8" fill="none"/>
<rect x="73.30" y="354.50" width="1.00" height="7.00" fill="#2c2c5e"/>
<rect x="77.70" y="354.50" width="1.00" height="7.00" fill="#2c2c5e"/>
<rect x="90.00" y="354.50" width="1.00" height="7.00" fill="#2c2c5e"/>
<rect x="93.30" y="354.50" width="1.00" height="7.00" fill="#2c2c5e"/>
<rect x="115.80" y="354.50" width="1.00" height="7.00" fill="#2c2c5e"/>
<rect x="125.00" y="354.50" width="1.00" height="7.00" fill="#2c2c5e"/>
<rect x="170.80" y="354.50" width="1.00" height="7.00" fill="#2c2c5e"/>
<rect x="180.80" y="354.50" width="1.00" height="7.00" fill="#2c2c5e"/>
<rect x="209.50" y="354.50" width="1.00" height="7.00" fill="#2c2c5e"/>
<rect x="201.50" y="354.50" width="1.00" height="7.00" fill="#2c2c5e"/>
<rect x="260.80" y="354.50" width="1.00" height="7.00" fill="#2c2c5e"/>
<rect x="295.20" y="356.00" width="2.40" height="4.00" fill="#44448a"/>
<line x1="68.60" y1="365.00" x2="297.00" y2="365.00" stroke="#4a4a92" stroke-width="1.0"/>
<path d="M69.60,364.00L70.60,365.00L69.60,366.00M73.10,364.00L74.10,365.00L73.10,366.00M76.60,364.00L77.60,365.00L76.60,366.00M80.10,364.00L81.10,365.00L80.10,366.00M83.60,364.00L84.60,365.00L83.60,366.00M87.10,364.00L88.10,365.00L87.10,366.00M90.60,364.00L91.60,365.00L90.60,366.00M94.10,364.00L95.10,365.00L94.10,366.00M97.60,364.00L98.60,365.00L97.60,366.00M101.10,364.00L102.10,365.00L101.10,366.00M104.60,364.00L105.60,365.00L104.60,366.00M108.10,364.00L109.10,365.00L108.10,366.00M111.60,364.00L112.60,365.00L111.60,366.00M115.10,364.00L116.10,365.00L115.10,366.00M118.60,364.00L119.60,365.00L118.60,366.00M122.10,364.00L123.10,365.00L122.10,366.00M125.60,364.00L126.60,365.00L125.60,366.00M129.10,364.00L130.10,365.00L129.10,366.00M132.60,364.00L133.60,365.00L132.60,366.00M136.10,364.00L137.10,365.00L136.10,366.00M139.60,364.00L140.60,365.00L139.60,366.00M143.10,364.00L144.10,365.00L143.10,366.00M146.60,364.00L147.60,365.00L146.60,366.00M150.10,364.00L151.10,365.00L150.10,366.00M153.60,364.00L154.60,365.00L153.60,366.00M157.10,364.00L158.10,365.00L157.10,366.00M160.60,364.00L161.60,365.00L160.60,366.00M164.10,364.00L165.10,365.00L164.10,366.00M167.60,364.00L168.60,365.00L167.60,366.00M171.10,364.00L172.10,365.00L171.10,366.00M174.60,364.00L175.60,365.00L174.60,366.00M178.10,364.00L179.10,365.00L178.10,366.00M181.60,364.00L182.60,365.00L181.60,366.00M185.10,364.00L186.10,365.00L185.10,366.00M188.60,364.00L189.60,365.00L188.60,366.00M192.10,364.00L193.10,365.00L192.10,366.00M195.60,364.00L196.60,365.00L195.60,366.00M199.10,364.00L200.10,365.00L199.10,366.00M202.60,364.00L203.60,365.00L202.60,366.00M206.10,364.00L207.10,365.00L206.10,366.00M209.60,364.00L210.60,365.00L209.60,366.00M213.10,364.00L214.10,365.00L213.10,366.00M216.60,364.00L217.60,365.00L216.60,366.00M220.10,364.00L221.10,365.00L220.10,366.00M223.60,364.00L224.60,365.00L223.60,366.00M227.10,364.00L228.10,365.00L227.10,366.00M230.60,364.00L231.60,365.00L230.60,366.00M234.10,364.00L235.10,365.00L234.10,366.00M237.60,364.00L238.60,365.00L237.60,366.00M241.10,364.00L242.10,365.00L241.10,366.00M244.60,364.00L245.60,365.00L244.60,366.00M248.10,364.00L249.10,365.00L248.10,366.00M251.60,364.00L252.60,365.00L251.60,366.00M255.10,364.00L256.10,365.00L255.10,366.00M258.60,364.00L259.60,365.00L258.60,366.00M262.10,364.00L263.10,365.00L262.10,366.00M265.60,364.00L266.60,365.00L265.60,366.00M269.10,364.00L270.10,365.00L269.10,366.00M272.60,364.00L273.60,365.00L272.60,366.00M276.10,364.00L277.10,365.00L276.10,366.00M279.60,364.00L280.60,365.00L279.60,366.00M283.10,364.00L284.10,365.00L283.10,366.00M286.60,364.00L287.60,365.00L286.60,366.00M290.10,364.00L291.10,365.00L290.10,366.00M293.60,364.00L294.60,365.00L293.60,366.00" stroke="#38386e" stroke-width="0.8" fill="none"/>
<rect x="73.30" y="361.50" width="1.00" height="7.00" fill="#2c2c5e"/>
<rect x="77.70" y="361.50" width="1.00" height="7.00" fill="#2c2c5e"/>
<rect x="90.00" y="361.50" width="1.00" height="7.00" fill="#2c2c5e"/>
<rect x="93.30" y="361.50" width="1.00" height="7.00" fill="#2c2c5e"/>
<rect x="115.80" y="361.50" width="1.00" height="7.00" fill="#2c2c5e"/>
<rect x="125.00" y="361.50" width="1.00" height="7.00" fill="#2c2c5e"/>
<rect x="170.80" y="361.50" width="1.00" height="7.00" fill="#2c2c5e"/>
<rect x="180.80" y="361.50" width="1.00" height="7.00" fill="#2c2c5e"/>
<rect x="209.50" y="361.50" width="1.00" height="7.00" fill="#2c2c5e"/>
<rect x="260.80" y="361.50" width="1.00" height="7.00" fill="#2c2c5e"/>
<rect x="295.20" y="363.00" width="2.40" height="4.00" fill="#44448a"/>
<line x1="68.60" y1="371.80" x2="297.00" y2="371.80" stroke="#4a4a92" stroke-width="1.0"/>
<path d="M69.60,370.80L70.60,371.80L69.60,372.80M73.10,370.80L74.10,371.80L73.10,372.80M76.60,370.80L77.60,371.80L76.60,372.80M80.10,370.80L81.10,371.80L80.10,372.80M83.60,370.80L84.60,371.80L83.60,372.80M87.10,370.80L88.10,371.80L87.10,372.80M90.60,370.80L91.60,371.80L90.60,372.80M94.10,370.80L95.10,371.80L94.10,372.80M97.60,370.80L98.60,371.80L97.60,372.80M101.10,370.80L102.10,371.80L101.10,372.80M104.60,370.80L105.60,371.80L104.60,372.80M108.10,370.80L109.10,371.80L108.10,372.80M111.60,370.80L112.60,371.80L111.60,372.80M115.10,370.80L116.10,371.80L115.10,372.80M118.60,370.80L119.60,371.80L118.60,372.80M122.10,370.80L123.10,371.80L122.10,372.80M125.60,370.80L126.60,371.80L125.60,372.80M129.10,370.80L130.10,371.80L129.10,372.80M132.60,370.80L133.60,371.80L132.60,372.80M136.10,370.80L137.10,371.80L136.10,372.80M139.60,370.80L140.60,371.80L139.60,372.80M143.10,370.80L144.10,371.80L143.10,372.80M146.60,370.80L147.60,371.80L146.60,372.80M150.10,370.80L151.10,371.80L150.10,372.80M153.60,370.80L154.60,371.80L153.60,372.80M157.10,370.80L158.10,371.80L157.10,372.80M160.60,370.80L161.60,371.80L160.60,372.80M164.10,370.80L165.10,371.80L164.10,372.80M167.60,370.80L168.60,371.80L167.60,372.80M171.10,370.80L172.10,371.80L171.10,372.80M174.60,370.80L175.60,371.80L174.60,372.80M178.10,370.80L179.10,371.80L178.10,372.80M181.60,370.80L182.60,371.80L181.60,372.80M185.10,370.80L186.10,371.80L185.10,372.80M188.60,370.80L189.60,371.80L188.60,372.80M192.10,370.80L193.10,371.80L192.10,372.80M195.60,370.80L196.60,371.80L195.60,372.80M199.10,370.80L200.10,371.80L199.10,372.80M202.60,370.80L203.60,371.80L202.60,372.80M206.10,370.80L207.10,371.80L206.10,372.80M209.60,370.80L210.60,371.80L209.60,372.80M213.10,370.80L214.10,371.80L213.10,372.80M216.60,370.80L217.60,371.80L216.60,372.80M220.10,370.80L221.10,371.80L220.10,372.80M223.60,370.80L224.60,371.80L223.60,372.80M227.10,370.80L228.10,371.80L227.10,372.80M230.60,370.80L231.60,371.80L230.60,372.80M234.10,370.80L235.10,371.80L234.10,372.80M237.60,370.80L238.60,371.80L237.60,372.80M241.10,370.80L242.10,371.80L241.10,372.80M244.60,370.80L245.60,371.80L244.60,372.80M248.10,370.80L249.10,371.80L248.10,372.80M251.60,370.80L252.60,371.80L251.60,372.80M255.10,370.80L256.10,371.80L255.10,372.80M258.60,370.80L259.60,371.80L258.60,372.80M262.10,370.80L263.10,371.80L262.10,372.80M265.60,370.80L266.60,371.80L265.60,372.80M269.10,370.80L270.10,371.80L269.10,372.80M272.60,370.80L273.60,371.80L272.60,372.80M276.10,370.80L277.10,371.80L276.10,372.80M279.60,370.80L280.60,371.80L279.60,372.80M283.10,370.80L284.10,371.80L283.10,372.80M286.60,370.80L287.60,371.80L286.60,372.80M290.10,370.80L291.10,371.80L290.10,372.80M293.60,370.80L294.60,371.80L293.60,372.80" stroke="#38386e" stroke-width="0.8" fill="none"/>
<rect x="73.30" y="368.30" width="1.00" height="7.00" fill="#2c2c5e"/>
<rect x="77.70" y="368.30" width="1.00" height="7.00" fill="#2c2c5e"/>
<rect x="90.00" y="368.30" width="1.00" height="7.00" fill="#2c2c5e"/>
<rect x="93.30" y="368.30" width="1.00" height="7.00" fill="#2c2c5e"/>
<rect x="115.80" y="368.30" width="1.00" height="7.00" fill="#2c2c5e"/>
<rect x="125.00" y="368.30" width="1.00" height="7.00" fill="#2c2c5e"/>
<rect x="170.80" y="368.30" width="1.00" height="7.00" fill="#2c2c5e"/>
<rect x="180.80" y="368.30" width="1.00" height="7.00" fill="#2c2c5e"/>
<rect x="209.50" y="368.30" width="1.00" height="7.00" fill="#2c2c5e"/>
<rect x="295.20" y="369.80" width="2.40" height="4.00" fill="#44448a"/>
<line x1="68.60" y1="378.70" x2="297.00" y2="378.70" stroke="#4a4a92" stroke-width="1.0"/>
<path d="M69.60,377.70L70.60,378.70L69.60,379.70M73.10,377.70L74.10,378.70L73.10,379.70M76.60,377.70L77.60,378.70L76.60,379.70M80.10,377.70L81.10,378.70L80.10,379.70M83.60,377.70L84.60,378.70L83.60,379.70M87.10,377.70L88.10,378.70L87.10,379.70M90.60,377.70L91.60,378.70L90.60,379.70M94.10,377.70L95.10,378.70L94.10,379.70M97.60,377.70L98.60,378.70L97.60,379.70M101.10,377.70L102.10,378.70L101.10,379.70M104.60,377.70L105.60,378.70L104.60,379.70M108.10,377.70L109.10,378.70L108.10,379.70M111.60,377.70L112.60,378.70L111.60,379.70M115.10,377.70L116.10,378.70L115.10,379.70M118.60,377.70L119.60,378.70L118.60,379.70M122.10,377.70L123.10,378.70L122.10,379.70M125.60,377.70L126.60,378.70L125.60,379.70M129.10,377.70L130.10,378.70L129.10,379.70M132.60,377.70L133.60,378.70L132.60,379.70M136.10,377.70L137.10,378.70L136.10,379.70M139.60,377.70L140.60,378.70L139.60,379.70M143.10,377.70L144.10,378.70L143.10,379.70M146.60,377.70L147.60,378.70L146.60,379.70M150.10,377.70L151.10,378.70L150.10,379.70M153.60,377.70L154.60,378.70L153.60,379.70M157.10,377.70L158.10,378.70L157.10,379.70M160.60,377.70L161.60,378.70L160.60,379.70M164.10,377.70L165.10,378.70L164.10,379.70M167.60,377.70L168.60,378.70L167.60,379.70M171.10,377.70L172.10,378.70L171.10,379.70M174.60,377.70L175.60,378.70L174.60,379.70M178.10,377.70L179.10,378.70L178.10,379.70M181.60,377.70L182.60,378.70L181.60,379.70M185.10,377.70L186.10,378.70L185.10,379.70M188.60,377.70L189.60,378.70L188.60,379.70M192.10,377.70L193.10,378.70L192.10,379.70M195.60,377.70L196.60,378.70L195.60,379.70M199.10,377.70L200.10,378.70L199.10,379.70M202.60,377.70L203.60,378.70L202.60,379.70M206.10,377.70L207.10,378.70L206.10,379.70M209.60,377.70L210.60,378.70L209.60,379.70M213.10,377.70L214.10,378.70L213.10,379.70M216.60,377.70L217.60,378.70L216.60,379.70M220.10,377.70L221.10,378.70L220.10,379.70M223.60,377.70L224.60,378.70L223.60,379.70M227.10,377.70L228.10,378.70L227.10,379.70M230.60,377.70L231.60,378.70L230.60,379.70M234.10,377.70L235.10,378.70L234.10,379.70M237.60,377.70L238.60,378.70L237.60,379.70M241.10,377.70L242.10,378.70L241.10,379.70M244.60,377.70L245.60,378.70L244.60,379.70M248.10,377.70L249.10,378.70L248.10,379.70M251.60,377.70L252.60,378.70L251.60,379.70M255.10,377.70L256.10,378.70L255.10,379.70M258.60,377.70L259.60,378.70L258.60,379.70M262.10,377.70L263.10,378.70L262.10,379.70M265.60,377.70L266.60,378.70L265.60,379.70M269.10,377.70L270.10,378.70L269.10,379.70M272.60,377.70L273.60,378.70L272.60,379.70M276.10,377.70L277.10,378.70L276.10,379.70M279.60,377.70L280.60,378.70L279.60,379.70M283.10,377.70L284.10,378.70L283.10,379.70M286.60,377.70L287.60,378.70L286.60,379.70M290.10,377.70L291.10,378.70L290.10,379.70M293.60,377.70L294.60,378.70L293.60,379.70" stroke="#38386e" stroke-width="0.8" fill="none"/>
<rect x="73.30" y="375.20" width="1.00" height="7.00" fill="#2c2c5e"/>
<rect x="77.70" y="375.20" width="1.00" height="7.00" fill="#2c2c5e"/>
<rect x="90.00" y="375.20" width="1.00" height="7.00" fill="#2c2c5e"/>
<rect x="93.30" y="375.20" width="1.00" height="7.00" fill="#2c2c5e"/>
<rect x="115.80" y="375.20" width="1.00" height="7.00" fill="#2c2c5e"/>
<rect x="125.00" y="375.20" width="1.00" height="7.00" fill="#2c2c5e"/>
<rect x="170.80" y="375.20" width="1.00" height="7.00" fill="#2c2c5e"/>
<rect x="180.80" y="375.20" width="1.00" height="7.00" fill="#2c2c5e"/>
<rect x="209.50" y="375.20" width="1.00" height="7.00" fill="#2c2c5e"/>
<rect x="260.80" y="375.20" width="1.00" height="7.00" fill="#2c2c5e"/>
<rect x="295.20" y="376.70" width="2.40" height="4.00" fill="#44448a"/>
<line x1="68.60" y1="385.50" x2="297.00" y2="385.50" stroke="#4a4a92" stroke-width="1.0"/>
<path d="M69.60,384.50L70.60,385.50L69.60,386.50M73.10,384.50L74.10,385.50L73.10,386.50M76.60,384.50L77.60,385.50L76.60,386.50M80.10,384.50L81.10,385.50L80.10,386.50M83.60,384.50L84.60,385.50L83.60,386.50M87.10,384.50L88.10,385.50L87.10,386.50M90.60,384.50L91.60,385.50L90.60,386.50M94.10,384.50L95.10,385.50L94.10,386.50M97.60,384.50L98.60,385.50L97.60,386.50M101.10,384.50L102.10,385.50L101.10,386.50M104.60,384.50L105.60,385.50L104.60,386.50M108.10,384.50L109.10,385.50L108.10,386.50M111.60,384.50L112.60,385.50L111.60,386.50M115.10,384.50L116.10,385.50L115.10,386.50M118.60,384.50L119.60,385.50L118.60,386.50M122.10,384.50L123.10,385.50L122.10,386.50M125.60,384.50L126.60,385.50L125.60,386.50M129.10,384.50L130.10,385.50L129.10,386.50M132.60,384.50L133.60,385.50L132.60,386.50M136.10,384.50L137.10,385.50L136.10,386.50M139.60,384.50L140.60,385.50L139.60,386.50M143.10,384.50L144.10,385.50L143.10,386.50M146.60,384.50L147.60,385.50L146.60,386.50M150.10,384.50L151.10,385.50L150.10,386.50M153.60,384.50L154.60,385.50L153.60,386.50M157.10,384.50L158.10,385.50L157.10,386.50M160.60,384.50L161.60,385.50L160.60,386.50M164.10,384.50L165.10,385.50L164.10,386.50M167.60,384.50L168.60,385.50L167.60,386.50M171.10,384.50L172.10,385.50L171.10,386.50M174.60,384.50L175.60,385.50L174.60,386.50M178.10,384.50L179.10,385.50L178.10,386.50M181.60,384.50L182.60,385.50L181.60,386.50M185.10,384.50L186.10,385.50L185.10,386.50M188.60,384.50L189.60,385.50L188.60,386.50M192.10,384.50L193.10,385.50L192.10,386.50M195.60,384.50L196.60,385.50L195.60,386.50M199.10,384.50L200.10,385.50L199.10,386.50M202.60,384.50L203.60,385.50L202.60,386.50M206.10,384.50L207.10,385.50L206.10,386.50M209.60,384.50L210.60,385.50L209.60,386.50M213.10,384.50L214.10,385.50L213.10,386.50M216.60,384.50L217.60,385.50L216.60,386.50M220.10,384.50L221.10,385.50L220.10,386.50M223.60,384.50L224.60,385.50L223.60,386.50M227.10,384.50L228.10,385.50L227.10,386.50M230.60,384.50L231.60,385.50L230.60,386.50M234.10,384.50L235.10,385.50L234.10,386.50M237.60,384.50L238.60,385.50L237.60,386.50M241.10,384.50L242.10,385.50L241.10,386.50M244.60,384.50L245.60,385.50L244.60,386.50M248.10,384.50L249.10,385.50L248.10,386.50M251.60,384.50L252.60,385.50L251.60,386.50M255.10,384.50L256.10,385.50L255.10,386.50M258.60,384.50L259.60,385.50L258.60,386.50M262.10,384.50L263.10,385.50L262.10,386.50M265.60,384.50L266.60,385.50L265.60,386.50M269.10,384.50L270.10,385.50L269.10,386.50M272.60,384.50L273.60,385.50L272.60,386.50M276.10,384.50L277.10,385.50L276.10,386.50M279.60,384.50L280.60,385.50L279.60,386.50M283.10,384.50L284.10,385.50L283.10,386.50M286.60,384.50L287.60,385.50L286.60,386.50M290.10,384.50L291.10,385.50L290.10,386.50M293.60,384.50L294.60,385.50L293.60,386.50" stroke="#38386e" stroke-width="0.8" fill="none"/>
<rect x="73.30" y="382.00" width="1.00" height="7.00" fill="#2c2c5e"/>
<rect x="77.70" y="382.00" width="1.00" height="7.00" fill="#2c2c5e"/>
<rect x="90.00" y="382.00" width="1.00" height="7.00" fill="#2c2c5e"/>
<rect x="93.30" y="382.00" width="1.00" height="7.00" fill="#2c2c5e"/>
<rect x="115.80" y="382.00" width="1.00" height="7.00" fill="#2c2c5e"/>
<rect x="125.00" y="382.00" width="1.00" height="7.00" fill="#2c2c5e"/>
<rect x="170.80" y="382.00" width="1.00" height="7.00" fill="#2c2c5e"/>
<rect x="180.80" y="382.00" width="1.00" height="7.00" fill="#2c2c5e"/>
<rect x="209.50" y="382.00" width="1.00" height="7.00" fill="#2c2c5e"/>
<rect x="201.50" y="382.00" width="1.00" height="7.00" fill="#2c2c5e"/>
<rect x="235.00" y="382.00" width="1.00" height="7.00" fill="#2c2c5e"/>
<rect x="260.80" y="382.00" width="1.00" height="7.00" fill="#2c2c5e"/>
<rect x="295.20" y="383.50" width="2.40" height="4.00" fill="#44448a"/>
<text x="355.10" y="386.30" font-size="8.70" fill="#3d3d80" font-weight="normal" textLength="14.60" lengthAdjust="spacingAndGlyphs" stroke="#3d3d80" stroke-width="0.4">HBZ</text>
<text x="411.60" y="386.30" font-size="8.70" fill="#a0a0a8" font-weight="normal" textLength="15.30" lengthAdjust="spacingAndGlyphs" stroke="#a0a0a8" stroke-width="0.4">HBM</text>
<text x="438.60" y="386.30" font-size="8.70" fill="#3d3d80" font-weight="normal" textLength="19.20" lengthAdjust="spacingAndGlyphs" stroke="#3d3d80" stroke-width="0.4">HBA2</text>
<text x="462.10" y="386.30" font-size="8.70" fill="#3d3d80" font-weight="normal" textLength="18.80" lengthAdjust="spacingAndGlyphs" stroke="#3d3d80" stroke-width="0.4">HBA1</text>
<text x="487.00" y="386.30" font-size="8.70" fill="#a0a0a8" font-weight="normal" textLength="15.80" lengthAdjust="spacingAndGlyphs" stroke="#a0a0a8" stroke-width="0.4">HBQ</text>
<rect x="360.5" y="393.6" width="1.3" height="6.6" fill="#2d2d7a"/>
<line x1="361.5" y1="396.9" x2="365" y2="396.9" stroke="#2d2d7a" stroke-width="1"/>
<rect x="364.8" y="393.6" width="2.7" height="6.6" fill="#2d2d7a"/>
<rect x="419.2" y="393.5" width="3.2" height="6.1" rx="0.8" fill="#6a6a98"/>
<rect x="450.6" y="392.2" width="3.9" height="6.3" rx="1" fill="#2d2d7a"/>
<rect x="452.1" y="393.2" width="0.8" height="4.3" fill="#8888b8"/>
<rect x="466.8" y="392.2" width="3.9" height="6.3" rx="1" fill="#2d2d7a"/>
<rect x="468.3" y="393.2" width="0.8" height="4.3" fill="#8888b8"/>
<rect x="483.3" y="392.4" width="4.3" height="6.2" rx="1.6" fill="#2d2d7a"/>
<rect x="484.9" y="393.6" width="1.1" height="3.8" fill="#9090c0"/>
<text transform="translate(37.00,428.60) rotate(-90)" x="0" y="0" font-size="8.41" fill="#000" font-weight="normal" textLength="34.10" lengthAdjust="spacingAndGlyphs" stroke="#000" stroke-width="0.4">ChIP-seq</text>
<text x="44.30" y="408.40" font-size="8.84" fill="#000" font-weight="normal" textLength="19.40" lengthAdjust="spacingAndGlyphs" stroke="#000" stroke-width="0.4">KLF1</text>
<text x="46.10" y="428.90" font-size="8.41" fill="#000" font-weight="normal" textLength="17.90" lengthAdjust="spacingAndGlyphs" stroke="#000" stroke-width="0.4">input</text>
<text x="34.10" y="445.30" font-size="8.55" fill="#3a3a8e" font-weight="normal" textLength="29.80" lengthAdjust="spacingAndGlyphs" stroke="#3a3a8e" stroke-width="0.4">DNase1</text>
<polygon points="68.60,416.50 73.60,416.50 73.85,416.18 74.10,416.50 80.60,416.50 80.85,416.37 81.10,416.50 84.85,416.45 85.10,416.20 85.35,415.95 85.60,415.70 85.85,415.55 86.10,415.80 86.35,416.05 86.60,416.30 86.85,416.50 102.35,416.50 102.60,416.34 102.85,416.50 106.10,416.50 106.35,415.95 106.60,416.50 106.85,416.50 107.10,416.12 107.35,416.50 109.60,416.50 109.85,413.56 110.10,410.61 110.35,407.67 110.60,407.08 110.85,410.02 111.10,412.13 111.35,412.44 111.60,414.00 111.85,415.56 112.10,416.50 116.10,416.50 116.35,416.14 116.60,416.50 118.10,416.50 118.35,416.32 118.60,416.50 129.10,416.50 129.35,416.42 129.60,416.50 129.85,416.00 130.10,416.50 133.10,416.50 133.35,416.22 133.60,416.50 144.60,416.50 144.85,416.01 145.10,416.50 145.60,416.50 145.85,415.77 146.10,415.05 146.35,414.32 146.60,413.59 146.85,413.74 147.10,414.46 147.35,415.19 147.60,415.92 147.85,416.50 153.85,416.50 154.10,415.92 154.35,416.50 154.60,416.50 154.85,416.43 155.10,416.05 155.35,415.68 155.60,415.30 155.85,415.07 156.10,415.45 156.35,415.82 156.60,416.20 156.85,416.50 160.10,416.50 160.35,416.38 160.60,416.50 171.60,416.50 171.85,416.38 172.10,416.50 179.60,416.50 179.85,416.08 180.10,416.50 181.85,416.50 182.10,415.96 182.35,416.50 184.10,416.50 184.35,411.83 184.60,407.17 184.85,402.50 185.10,401.57 185.35,406.23 185.60,410.50 185.85,409.00 186.10,411.50 186.35,414.00 186.60,416.50 188.35,416.50 188.60,416.29 188.85,416.50 192.35,416.50 192.60,416.13 192.85,416.50 202.10,416.50 202.35,416.35 202.60,416.50 203.35,416.50 203.60,415.21 203.85,413.60 204.10,411.99 204.35,411.02 204.60,412.63 204.85,414.24 205.10,415.86 205.35,416.50 212.10,416.50 212.35,416.29 212.60,415.21 212.85,414.14 213.10,413.06 213.35,412.41 213.60,413.49 213.85,414.56 214.10,415.64 214.35,416.50 238.10,416.50 238.35,416.19 238.60,416.50 262.85,416.50 263.10,416.22 263.35,416.50 267.10,416.50 267.35,416.01 267.60,416.50 276.35,416.50 276.60,416.27 276.85,416.50 277.60,416.50 277.85,415.91 278.10,416.50 288.60,416.50 288.85,416.26 289.10,416.50 290.10,416.50 290.35,416.30 290.60,416.50 295.60,416.50 295.85,415.91 296.10,414.94 296.35,413.96 296.60,412.98 296.85,412.40 297.10,413.37 297.35,414.35 297.60,415.33 297.85,416.30 298.10,416.50 306.60,416.50 306.85,416.38 307.10,416.50 316.10,416.50 316.35,416.35 316.60,415.60 316.85,414.85 317.10,414.10 317.35,413.65 317.60,414.40 317.85,415.15 318.10,415.90 318.35,416.50 324.35,416.50 324.60,416.35 324.85,416.50 354.35,416.50 354.60,416.20 354.85,416.50 361.10,416.50 361.35,416.29 361.60,416.08 361.85,415.88 362.10,415.67 362.35,415.54 362.60,415.75 362.85,415.96 363.10,416.17 363.35,416.38 363.60,416.50 365.35,416.50 365.60,416.33 365.85,416.12 366.10,415.92 366.35,415.71 366.60,415.50 366.85,415.71 367.10,415.92 367.35,416.12 367.60,416.33 367.85,416.50 377.85,416.50 378.10,416.39 378.35,416.50 381.10,416.50 381.35,416.31 381.60,416.50 389.60,416.50 389.85,416.12 390.10,416.50 398.60,416.50 398.85,416.27 399.10,416.50 401.10,416.50 401.35,416.29 401.60,416.50 408.60,416.50 408.85,416.45 409.10,416.20 409.35,415.95 409.60,415.70 409.85,415.45 410.10,415.40 410.35,415.65 410.60,415.90 410.85,416.15 411.10,416.40 411.35,416.50 412.35,416.50 412.60,416.42 412.85,416.22 413.10,416.02 413.35,415.82 413.60,415.62 413.85,415.42 414.10,415.38 414.35,415.58 414.60,415.78 414.85,415.98 415.10,416.18 415.35,416.38 415.60,416.50 416.35,416.50 416.60,416.43 416.85,416.27 417.10,416.10 417.35,415.93 417.60,415.77 417.85,415.60 418.10,415.57 418.35,415.73 418.60,415.90 418.85,416.07 419.10,416.23 419.35,416.40 419.60,416.50 419.85,416.45 420.10,416.20 420.35,415.95 420.60,415.70 420.85,415.45 421.10,415.40 421.35,415.65 421.60,415.90 421.85,416.15 422.10,416.40 422.35,416.50 426.35,416.50 426.60,416.15 426.85,416.50 431.10,416.50 431.35,416.17 431.60,416.50 432.35,416.50 432.60,416.43 432.85,416.27 433.10,416.10 433.35,415.93 433.60,415.77 433.85,415.60 434.10,415.57 434.35,415.73 434.60,415.90 434.85,416.07 435.10,416.23 435.35,416.40 435.60,416.43 435.85,416.27 436.10,416.10 436.35,415.93 436.60,415.77 436.85,415.60 437.10,415.57 437.35,415.73 437.60,415.90 437.85,416.07 438.10,416.23 438.35,416.40 438.60,416.50 445.35,416.50 445.60,416.40 445.85,416.50 447.10,416.50 447.35,415.83 447.60,415.17 447.85,414.50 448.10,413.83 448.35,413.43 448.60,414.10 448.85,414.77 449.10,415.43 449.35,416.10 449.60,415.95 449.85,415.49 450.10,415.03 450.35,414.57 450.60,414.48 450.85,414.94 451.10,415.40 451.35,415.86 451.60,416.15 451.85,415.87 452.10,415.42 452.35,414.97 452.60,414.88 452.85,415.33 453.10,415.78 453.35,416.23 453.60,416.50 453.85,416.50 454.10,416.30 454.35,415.80 454.60,415.30 454.85,414.80 455.10,414.70 455.35,415.20 455.60,415.70 455.85,416.20 456.10,416.50 456.60,416.50 456.85,416.12 457.10,415.50 457.35,414.87 457.60,414.75 457.85,414.97 458.10,414.88 458.35,415.33 458.60,415.78 458.85,416.23 459.10,416.50 459.85,416.50 460.10,416.38 460.35,416.08 460.60,415.78 460.85,415.48 461.10,415.42 461.35,415.72 461.60,416.02 461.85,416.32 462.10,416.50 464.35,416.50 464.60,415.98 464.85,415.34 465.10,414.69 465.35,414.05 465.60,413.40 465.85,414.05 466.10,414.69 466.35,415.19 466.60,414.25 466.85,413.31 467.10,413.13 467.35,414.06 467.60,415.00 467.85,415.94 468.10,416.12 468.35,415.81 468.60,415.50 468.85,415.19 469.10,415.12 469.35,415.44 469.60,415.75 469.85,416.06 470.10,416.38 470.35,416.50 470.60,416.42 470.85,416.22 471.10,416.02 471.35,415.82 471.60,415.62 471.85,415.42 472.10,415.38 472.35,415.58 472.60,415.78 472.85,415.98 473.10,416.18 473.35,416.38 473.60,416.50 474.35,416.50 474.60,416.43 474.85,416.27 475.10,416.10 475.35,415.93 475.60,415.77 475.85,415.60 476.10,415.57 476.35,415.73 476.60,415.90 476.85,416.07 477.10,416.23 477.35,416.40 477.60,416.50 478.35,416.50 478.60,416.43 478.85,416.27 479.10,416.10 479.35,415.93 479.60,415.77 479.85,415.60 480.10,415.57 480.35,415.73 480.60,415.90 480.85,416.07 481.10,416.23 481.35,416.40 481.60,416.50 484.35,416.50 484.60,416.43 484.85,416.27 485.10,416.10 485.35,415.93 485.60,415.77 485.85,415.60 486.10,415.57 486.35,415.73 486.60,415.90 486.85,416.07 487.10,416.23 487.35,416.40 487.60,416.50 487.85,416.35 488.10,415.60 488.35,414.85 488.60,414.10 488.85,413.65 489.10,414.40 489.35,415.15 489.60,415.90 489.85,416.50 504.85,416.50 505.10,416.12 505.35,416.50 511.90,416.50" fill="#111"/>
<line x1="68.60" y1="416.50" x2="511.90" y2="416.50" stroke="#111" stroke-width="0.9"/>
<line x1="68.60" y1="433.50" x2="511.90" y2="433.50" stroke="#555" stroke-width="1.15"/>
<polygon points="68.60,447.50 72.35,447.50 72.60,447.33 72.85,447.50 84.10,447.50 84.35,447.41 84.60,447.50 92.35,447.50 92.60,447.24 92.85,447.50 93.10,447.50 93.35,446.90 93.60,447.50 95.35,447.50 95.60,447.30 95.85,447.50 97.10,447.50 97.35,447.20 97.60,447.50 100.35,447.50 100.60,447.26 100.85,447.50 101.35,447.50 101.60,447.04 101.85,447.50 104.85,447.50 105.10,447.42 105.35,447.50 106.10,447.50 106.35,447.18 106.60,447.50 107.85,447.50 108.10,447.35 108.35,447.50 108.60,447.50 108.85,446.50 109.10,444.79 109.35,443.01 109.60,441.16 109.85,439.19 110.10,437.07 110.35,434.64 110.60,434.07 110.85,436.62 111.10,438.78 111.35,440.77 111.60,442.65 111.85,444.44 112.10,446.16 112.35,447.50 114.85,447.50 115.10,447.06 115.35,447.50 124.60,447.50 124.85,447.01 125.10,447.50 128.10,447.50 128.35,446.98 128.60,447.50 131.10,447.50 131.35,447.23 131.60,447.50 144.60,447.50 144.85,447.16 145.10,446.58 145.35,445.98 145.60,445.37 145.85,444.72 146.10,444.03 146.35,443.28 146.60,442.40 146.85,442.59 147.10,443.43 147.35,444.17 147.60,444.85 147.85,445.49 148.10,446.11 148.35,446.70 148.60,447.08 148.85,447.36 149.10,447.50 153.85,447.45 154.10,447.21 154.35,446.96 154.60,446.70 154.85,446.43 155.10,446.15 155.35,445.84 155.60,445.50 155.85,445.25 156.10,445.64 156.35,445.97 156.60,446.27 156.85,446.54 157.10,446.81 157.35,447.06 157.60,447.31 157.85,447.50 159.60,447.50 159.85,446.97 160.10,447.50 161.60,447.50 161.85,447.19 162.10,447.50 162.60,447.50 162.85,447.28 163.10,447.50 166.60,447.50 166.85,447.03 167.10,447.50 172.35,447.50 172.60,447.29 172.85,447.50 175.85,447.50 176.10,447.08 176.35,447.50 181.85,447.50 182.10,447.00 182.35,447.50 182.60,447.50 182.85,446.41 183.10,445.28 183.35,444.12 183.60,442.90 183.85,441.63 184.10,440.26 184.35,438.75 184.60,436.70 184.85,438.75 185.10,440.26 185.35,441.63 185.60,442.90 185.85,444.12 186.10,445.28 186.35,446.41 186.60,447.50 187.85,447.50 188.10,447.13 188.35,447.50 197.10,447.50 197.35,447.03 197.60,447.50 208.60,447.50 208.85,447.32 209.10,447.50 211.35,447.50 211.60,446.93 211.85,447.40 212.10,447.10 212.35,446.77 212.60,446.41 212.85,446.05 213.10,445.66 213.35,445.24 213.60,444.77 213.85,444.43 214.10,444.97 214.35,445.41 214.60,445.82 214.85,446.19 215.10,446.56 215.35,446.90 215.60,447.24 215.85,447.50 218.35,447.50 218.60,447.06 218.85,447.50 240.60,447.50 240.85,447.45 241.10,447.50 241.85,447.50 242.10,447.34 242.35,447.50 243.10,447.50 243.35,447.25 243.60,447.50 259.60,447.50 259.85,447.22 260.10,447.50 260.35,447.44 260.60,447.50 265.85,447.50 266.10,446.93 266.35,447.50 268.35,447.50 268.60,446.96 268.85,447.50 272.85,447.50 273.10,447.15 273.35,447.50 285.85,447.50 286.10,447.37 286.35,447.50 289.85,447.50 290.10,447.41 290.35,447.19 290.60,446.94 290.85,446.66 291.10,446.59 291.35,446.89 291.60,447.14 291.85,447.37 292.10,447.50 295.10,447.50 295.35,446.92 295.60,446.65 295.85,446.10 296.10,445.53 296.35,444.93 296.60,444.29 296.85,443.60 297.10,442.79 297.35,442.97 297.60,443.75 297.85,444.43 298.10,445.05 298.35,445.65 298.60,446.21 298.85,446.76 299.10,447.29 299.35,447.50 305.85,447.50 306.10,447.02 306.35,447.50 307.35,447.50 307.60,446.98 307.85,447.50 312.35,447.50 312.60,446.97 312.85,447.50 315.10,447.50 315.35,447.18 315.60,446.86 315.85,446.52 316.10,446.17 316.35,445.81 316.60,445.43 316.85,445.01 317.10,444.55 317.35,444.21 317.60,444.75 317.85,445.18 318.10,445.58 318.35,445.96 318.60,446.31 318.85,446.66 319.10,446.99 319.35,447.31 319.60,447.50 324.10,447.50 324.35,447.32 324.60,447.14 324.85,446.95 325.10,446.74 325.35,446.51 325.60,446.20 325.85,446.51 326.10,446.74 326.35,446.95 326.60,447.14 326.85,447.32 327.10,447.50 328.10,447.50 328.35,447.17 328.60,447.50 330.85,447.50 331.10,446.91 331.35,447.50 331.85,447.50 332.10,447.19 332.35,447.50 344.85,447.50 345.10,447.01 345.35,447.13 345.60,447.50 348.35,447.50 348.60,447.38 348.85,447.50 353.85,447.50 354.10,447.37 354.35,447.50 356.85,447.50 357.10,447.14 357.35,447.50 357.60,447.37 357.85,447.02 358.10,446.67 358.35,446.31 358.60,445.94 358.85,445.54 359.10,445.13 359.35,444.67 359.60,444.14 359.85,444.26 360.10,444.77 360.35,445.21 360.60,445.62 360.85,446.01 361.10,446.39 361.35,446.71 361.60,446.44 361.85,446.14 362.10,446.07 362.35,446.39 362.60,446.66 362.85,446.88 363.10,446.43 363.35,445.95 363.60,445.46 363.85,444.94 364.10,444.37 364.35,443.72 364.60,443.57 364.85,444.25 365.10,444.83 365.35,444.07 365.60,443.26 365.85,442.40 366.10,441.48 366.35,440.46 366.60,439.08 366.85,440.46 367.10,441.48 367.35,442.40 367.60,443.26 367.85,444.07 368.10,444.86 368.35,445.62 368.60,446.36 368.85,447.08 369.10,447.50 384.35,447.50 384.60,446.91 384.85,447.50 390.60,447.50 390.85,447.44 391.10,447.50 392.60,447.50 392.85,447.21 393.10,447.50 395.35,447.50 395.60,447.02 395.85,447.50 398.10,447.50 398.35,447.32 398.60,447.50 403.85,447.50 404.10,447.42 404.35,447.21 404.60,446.99 404.85,446.77 405.10,446.53 405.35,446.27 405.60,445.98 405.85,445.77 406.10,446.10 406.35,446.38 406.60,446.62 406.85,446.86 407.10,447.08 407.35,447.29 407.60,447.50 409.85,447.50 410.10,447.34 410.35,446.95 410.60,446.54 410.85,446.13 411.10,445.70 411.35,445.25 411.60,444.79 411.85,444.29 412.10,443.76 412.35,443.15 412.60,443.01 412.85,443.65 413.10,444.19 413.35,443.94 413.60,442.49 413.85,440.99 414.10,439.41 414.35,437.73 414.60,435.88 414.85,433.63 415.10,435.06 415.35,437.02 415.60,438.75 415.85,440.37 416.10,441.90 416.35,443.37 416.60,444.78 416.85,446.16 417.10,447.50 426.85,447.50 427.10,447.03 427.35,447.50 435.85,447.46 436.10,447.28 436.35,447.08 436.60,446.88 436.85,446.68 437.10,446.46 437.35,446.22 437.60,445.95 437.85,445.76 438.10,446.07 438.35,446.32 438.60,446.55 438.85,446.76 439.10,446.96 439.35,447.16 439.60,447.35 439.85,447.50 447.10,447.50 447.35,446.67 447.60,445.26 447.85,443.81 448.10,442.31 448.35,440.75 448.60,439.11 448.85,437.37 449.10,435.45 449.35,433.11 449.60,434.60 449.85,436.63 450.10,438.43 450.35,440.10 450.60,441.69 450.85,443.21 451.10,444.68 451.35,446.11 451.60,447.50 455.60,447.50 455.85,447.32 456.10,447.12 456.35,446.91 456.60,446.68 456.85,446.50 457.10,446.78 457.35,447.00 457.60,447.20 457.85,447.39 458.10,447.50 461.10,447.50 461.35,446.96 461.60,447.50 464.35,447.50 464.60,446.96 464.85,445.58 465.10,444.17 465.35,442.71 465.60,441.20 465.85,439.62 466.10,437.94 466.35,436.10 466.60,433.95 466.85,434.43 467.10,436.49 467.35,438.28 467.60,439.94 467.85,441.51 468.10,443.01 468.35,444.46 468.60,445.86 468.85,447.23 469.10,447.50 478.35,447.50 478.60,447.21 478.85,447.50 481.10,447.50 481.35,447.14 481.60,447.50 481.85,447.50 482.10,447.29 482.35,446.76 482.60,446.21 482.85,445.65 483.10,445.05 483.35,444.43 483.60,443.75 483.85,442.97 484.10,442.79 484.35,443.60 484.60,444.29 484.85,444.93 485.10,445.53 485.35,446.10 485.60,445.74 485.85,445.23 486.10,445.11 486.35,445.64 486.60,446.10 486.85,446.51 487.10,446.11 487.35,445.39 487.60,444.64 487.85,443.85 488.10,443.03 488.35,442.14 488.60,441.14 488.85,440.41 489.10,441.56 489.35,442.51 489.60,443.37 489.85,444.17 490.10,444.94 490.35,445.68 490.60,446.39 490.85,447.09 491.10,447.50 500.85,447.50 501.10,447.07 501.35,447.50 505.85,447.50 506.10,447.07 506.35,447.50 511.90,447.50" fill="#2d2d7a"/>
<line x1="68.60" y1="447.50" x2="511.90" y2="447.50" stroke="#3a3a72" stroke-width="0.8"/>
<text x="173.80" y="461.20" font-size="10.00" fill="#000" font-weight="normal" textLength="21.80" lengthAdjust="spacingAndGlyphs" stroke="#000" stroke-width="0.15">HS-40</text>
<text x="0.00" y="483.00" font-size="11.59" fill="#000" font-weight="bold" textLength="7.20" lengthAdjust="spacingAndGlyphs" stroke="#000" stroke-width="0.6">E</text>
<text x="182.60" y="485.00" font-size="8.99" fill="#28285e" font-weight="normal" textLength="19.60" lengthAdjust="spacingAndGlyphs" stroke="#28285e" stroke-width="0.5">SOX6</text>
<line x1="232.00" y1="479.50" x2="327.00" y2="479.50" stroke="#333" stroke-width="1.0"/>
<line x1="232.00" y1="476.80" x2="232.00" y2="482.40" stroke="#444" stroke-width="0.9"/>
<line x1="327.00" y1="476.80" x2="327.00" y2="482.40" stroke="#444" stroke-width="0.9"/>
<text x="334.50" y="482.50" font-size="9.13" fill="#000" font-weight="normal" textLength="22.70" lengthAdjust="spacingAndGlyphs" stroke="#000" stroke-width="0.4">200 kb</text>
<line x1="232.50" y1="493.30" x2="443.20" y2="493.30" stroke="#4a4a92" stroke-width="1.0"/>
<path d="M233.50,492.30L234.50,493.30L233.50,494.30M237.00,492.30L238.00,493.30L237.00,494.30M240.50,492.30L241.50,493.30L240.50,494.30M244.00,492.30L245.00,493.30L244.00,494.30M247.50,492.30L248.50,493.30L247.50,494.30M251.00,492.30L252.00,493.30L251.00,494.30M254.50,492.30L255.50,493.30L254.50,494.30M258.00,492.30L259.00,493.30L258.00,494.30M261.50,492.30L262.50,493.30L261.50,494.30M265.00,492.30L266.00,493.30L265.00,494.30M268.50,492.30L269.50,493.30L268.50,494.30M272.00,492.30L273.00,493.30L272.00,494.30M275.50,492.30L276.50,493.30L275.50,494.30M279.00,492.30L280.00,493.30L279.00,494.30M282.50,492.30L283.50,493.30L282.50,494.30M286.00,492.30L287.00,493.30L286.00,494.30M289.50,492.30L290.50,493.30L289.50,494.30M293.00,492.30L294.00,493.30L293.00,494.30M296.50,492.30L297.50,493.30L296.50,494.30M300.00,492.30L301.00,493.30L300.00,494.30M303.50,492.30L304.50,493.30L303.50,494.30M307.00,492.30L308.00,493.30L307.00,494.30M310.50,492.30L311.50,493.30L310.50,494.30M314.00,492.30L315.00,493.30L314.00,494.30M317.50,492.30L318.50,493.30L317.50,494.30M321.00,492.30L322.00,493.30L321.00,494.30M324.50,492.30L325.50,493.30L324.50,494.30M328.00,492.30L329.00,493.30L328.00,494.30M331.50,492.30L332.50,493.30L331.50,494.30M335.00,492.30L336.00,493.30L335.00,494.30M338.50,492.30L339.50,493.30L338.50,494.30M342.00,492.30L343.00,493.30L342.00,494.30M345.50,492.30L346.50,493.30L345.50,494.30M349.00,492.30L350.00,493.30L349.00,494.30M352.50,492.30L353.50,493.30L352.50,494.30M356.00,492.30L357.00,493.30L356.00,494.30M359.50,492.30L360.50,493.30L359.50,494.30M363.00,492.30L364.00,493.30L363.00,494.30M366.50,492.30L367.50,493.30L366.50,494.30M370.00,492.30L371.00,493.30L370.00,494.30M373.50,492.30L374.50,493.30L373.50,494.30M377.00,492.30L378.00,493.30L377.00,494.30M380.50,492.30L381.50,493.30L380.50,494.30M384.00,492.30L385.00,493.30L384.00,494.30M387.50,492.30L388.50,493.30L387.50,494.30M391.00,492.30L392.00,493.30L391.00,494.30M394.50,492.30L395.50,493.30L394.50,494.30M398.00,492.30L399.00,493.30L398.00,494.30M401.50,492.30L402.50,493.30L401.50,494.30M405.00,492.30L406.00,493.30L405.00,494.30M408.50,492.30L409.50,493.30L408.50,494.30M412.00,492.30L413.00,493.30L412.00,494.30M415.50,492.30L416.50,493.30L415.50,494.30M419.00,492.30L420.00,493.30L419.00,494.30M422.50,492.30L423.50,493.30L422.50,494.30M426.00,492.30L427.00,493.30L426.00,494.30M429.50,492.30L430.50,493.30L429.50,494.30M433.00,492.30L434.00,493.30L433.00,494.30M436.50,492.30L437.50,493.30L436.50,494.30M440.00,492.30L441.00,493.30L440.00,494.30" stroke="#38386e" stroke-width="0.8" fill="none"/>
<rect x="264.50" y="489.80" width="1.00" height="7.00" fill="#2c2c62"/>
<rect x="275.70" y="489.80" width="1.00" height="7.00" fill="#2c2c62"/>
<rect x="315.00" y="489.80" width="1.00" height="7.00" fill="#2c2c62"/>
<rect x="338.30" y="489.80" width="1.00" height="7.00" fill="#2c2c62"/>
<rect x="373.50" y="489.80" width="1.00" height="7.00" fill="#2c2c62"/>
<rect x="380.10" y="489.80" width="1.00" height="7.00" fill="#2c2c62"/>
<rect x="400.00" y="489.80" width="1.00" height="7.00" fill="#2c2c62"/>
<rect x="401.50" y="489.80" width="1.00" height="7.00" fill="#2c2c62"/>
<rect x="403.30" y="489.80" width="1.00" height="7.00" fill="#2c2c62"/>
<rect x="419.50" y="489.80" width="1.00" height="7.00" fill="#2c2c62"/>
<rect x="432.00" y="489.80" width="1.00" height="7.00" fill="#2c2c62"/>
<rect x="434.10" y="489.80" width="1.00" height="7.00" fill="#2c2c62"/>
<rect x="232.45" y="489.80" width="0.90" height="7.00" fill="#2c2c62"/>
<rect x="440.20" y="491.30" width="3.00" height="4.00" fill="#2a2a70"/>
<line x1="235.50" y1="500.00" x2="443.20" y2="500.00" stroke="#4a4a92" stroke-width="1.0"/>
<path d="M236.50,499.00L237.50,500.00L236.50,501.00M240.00,499.00L241.00,500.00L240.00,501.00M243.50,499.00L244.50,500.00L243.50,501.00M247.00,499.00L248.00,500.00L247.00,501.00M250.50,499.00L251.50,500.00L250.50,501.00M254.00,499.00L255.00,500.00L254.00,501.00M257.50,499.00L258.50,500.00L257.50,501.00M261.00,499.00L262.00,500.00L261.00,501.00M264.50,499.00L265.50,500.00L264.50,501.00M268.00,499.00L269.00,500.00L268.00,501.00M271.50,499.00L272.50,500.00L271.50,501.00M275.00,499.00L276.00,500.00L275.00,501.00M278.50,499.00L279.50,500.00L278.50,501.00M282.00,499.00L283.00,500.00L282.00,501.00M285.50,499.00L286.50,500.00L285.50,501.00M289.00,499.00L290.00,500.00L289.00,501.00M292.50,499.00L293.50,500.00L292.50,501.00M296.00,499.00L297.00,500.00L296.00,501.00M299.50,499.00L300.50,500.00L299.50,501.00M303.00,499.00L304.00,500.00L303.00,501.00M306.50,499.00L307.50,500.00L306.50,501.00M310.00,499.00L311.00,500.00L310.00,501.00M313.50,499.00L314.50,500.00L313.50,501.00M317.00,499.00L318.00,500.00L317.00,501.00M320.50,499.00L321.50,500.00L320.50,501.00M324.00,499.00L325.00,500.00L324.00,501.00M327.50,499.00L328.50,500.00L327.50,501.00M331.00,499.00L332.00,500.00L331.00,501.00M334.50,499.00L335.50,500.00L334.50,501.00M338.00,499.00L339.00,500.00L338.00,501.00M341.50,499.00L342.50,500.00L341.50,501.00M345.00,499.00L346.00,500.00L345.00,501.00M348.50,499.00L349.50,500.00L348.50,501.00M352.00,499.00L353.00,500.00L352.00,501.00M355.50,499.00L356.50,500.00L355.50,501.00M359.00,499.00L360.00,500.00L359.00,501.00M362.50,499.00L363.50,500.00L362.50,501.00M366.00,499.00L367.00,500.00L366.00,501.00M369.50,499.00L370.50,500.00L369.50,501.00M373.00,499.00L374.00,500.00L373.00,501.00M376.50,499.00L377.50,500.00L376.50,501.00M380.00,499.00L381.00,500.00L380.00,501.00M383.50,499.00L384.50,500.00L383.50,501.00M387.00,499.00L388.00,500.00L387.00,501.00M390.50,499.00L391.50,500.00L390.50,501.00M394.00,499.00L395.00,500.00L394.00,501.00M397.50,499.00L398.50,500.00L397.50,501.00M401.00,499.00L402.00,500.00L401.00,501.00M404.50,499.00L405.50,500.00L404.50,501.00M408.00,499.00L409.00,500.00L408.00,501.00M411.50,499.00L412.50,500.00L411.50,501.00M415.00,499.00L416.00,500.00L415.00,501.00M418.50,499.00L419.50,500.00L418.50,501.00M422.00,499.00L423.00,500.00L422.00,501.00M425.50,499.00L426.50,500.00L425.50,501.00M429.00,499.00L430.00,500.00L429.00,501.00M432.50,499.00L433.50,500.00L432.50,501.00M436.00,499.00L437.00,500.00L436.00,501.00M439.50,499.00L440.50,500.00L439.50,501.00" stroke="#38386e" stroke-width="0.8" fill="none"/>
<rect x="264.50" y="496.50" width="1.00" height="7.00" fill="#2c2c62"/>
<rect x="275.70" y="496.50" width="1.00" height="7.00" fill="#2c2c62"/>
<rect x="315.00" y="496.50" width="1.00" height="7.00" fill="#2c2c62"/>
<rect x="338.30" y="496.50" width="1.00" height="7.00" fill="#2c2c62"/>
<rect x="373.50" y="496.50" width="1.00" height="7.00" fill="#2c2c62"/>
<rect x="380.10" y="496.50" width="1.00" height="7.00" fill="#2c2c62"/>
<rect x="400.00" y="496.50" width="1.00" height="7.00" fill="#2c2c62"/>
<rect x="401.50" y="496.50" width="1.00" height="7.00" fill="#2c2c62"/>
<rect x="403.30" y="496.50" width="1.00" height="7.00" fill="#2c2c62"/>
<rect x="419.50" y="496.50" width="1.00" height="7.00" fill="#2c2c62"/>
<rect x="432.00" y="496.50" width="1.00" height="7.00" fill="#2c2c62"/>
<rect x="434.10" y="496.50" width="1.00" height="7.00" fill="#2c2c62"/>
<rect x="235.45" y="496.50" width="0.90" height="7.00" fill="#2c2c62"/>
<rect x="440.20" y="498.00" width="3.00" height="4.00" fill="#2a2a70"/>
<line x1="235.50" y1="506.90" x2="443.20" y2="506.90" stroke="#4a4a92" stroke-width="1.0"/>
<path d="M236.50,505.90L237.50,506.90L236.50,507.90M240.00,505.90L241.00,506.90L240.00,507.90M243.50,505.90L244.50,506.90L243.50,507.90M247.00,505.90L248.00,506.90L247.00,507.90M250.50,505.90L251.50,506.90L250.50,507.90M254.00,505.90L255.00,506.90L254.00,507.90M257.50,505.90L258.50,506.90L257.50,507.90M261.00,505.90L262.00,506.90L261.00,507.90M264.50,505.90L265.50,506.90L264.50,507.90M268.00,505.90L269.00,506.90L268.00,507.90M271.50,505.90L272.50,506.90L271.50,507.90M275.00,505.90L276.00,506.90L275.00,507.90M278.50,505.90L279.50,506.90L278.50,507.90M282.00,505.90L283.00,506.90L282.00,507.90M285.50,505.90L286.50,506.90L285.50,507.90M289.00,505.90L290.00,506.90L289.00,507.90M292.50,505.90L293.50,506.90L292.50,507.90M296.00,505.90L297.00,506.90L296.00,507.90M299.50,505.90L300.50,506.90L299.50,507.90M303.00,505.90L304.00,506.90L303.00,507.90M306.50,505.90L307.50,506.90L306.50,507.90M310.00,505.90L311.00,506.90L310.00,507.90M313.50,505.90L314.50,506.90L313.50,507.90M317.00,505.90L318.00,506.90L317.00,507.90M320.50,505.90L321.50,506.90L320.50,507.90M324.00,505.90L325.00,506.90L324.00,507.90M327.50,505.90L328.50,506.90L327.50,507.90M331.00,505.90L332.00,506.90L331.00,507.90M334.50,505.90L335.50,506.90L334.50,507.90M338.00,505.90L339.00,506.90L338.00,507.90M341.50,505.90L342.50,506.90L341.50,507.90M345.00,505.90L346.00,506.90L345.00,507.90M348.50,505.90L349.50,506.90L348.50,507.90M352.00,505.90L353.00,506.90L352.00,507.90M355.50,505.90L356.50,506.90L355.50,507.90M359.00,505.90L360.00,506.90L359.00,507.90M362.50,505.90L363.50,506.90L362.50,507.90M366.00,505.90L367.00,506.90L366.00,507.90M369.50,505.90L370.50,506.90L369.50,507.90M373.00,505.90L374.00,506.90L373.00,507.90M376.50,505.90L377.50,506.90L376.50,507.90M380.00,505.90L381.00,506.90L380.00,507.90M383.50,505.90L384.50,506.90L383.50,507.90M387.00,505.90L388.00,506.90L387.00,507.90M390.50,505.90L391.50,506.90L390.50,507.90M394.00,505.90L395.00,506.90L394.00,507.90M397.50,505.90L398.50,506.90L397.50,507.90M401.00,505.90L402.00,506.90L401.00,507.90M404.50,505.90L405.50,506.90L404.50,507.90M408.00,505.90L409.00,506.90L408.00,507.90M411.50,505.90L412.50,506.90L411.50,507.90M415.00,505.90L416.00,506.90L415.00,507.90M418.50,505.90L419.50,506.90L418.50,507.90M422.00,505.90L423.00,506.90L422.00,507.90M425.50,505.90L426.50,506.90L425.50,507.90M429.00,505.90L430.00,506.90L429.00,507.90M432.50,505.90L433.50,506.90L432.50,507.90M436.00,505.90L437.00,506.90L436.00,507.90M439.50,505.90L440.50,506.90L439.50,507.90" stroke="#38386e" stroke-width="0.8" fill="none"/>
<rect x="264.50" y="503.40" width="1.00" height="7.00" fill="#2c2c62"/>
<rect x="275.70" y="503.40" width="1.00" height="7.00" fill="#2c2c62"/>
<rect x="315.00" y="503.40" width="1.00" height="7.00" fill="#2c2c62"/>
<rect x="338.30" y="503.40" width="1.00" height="7.00" fill="#2c2c62"/>
<rect x="373.50" y="503.40" width="1.00" height="7.00" fill="#2c2c62"/>
<rect x="380.10" y="503.40" width="1.00" height="7.00" fill="#2c2c62"/>
<rect x="400.00" y="503.40" width="1.00" height="7.00" fill="#2c2c62"/>
<rect x="401.50" y="503.40" width="1.00" height="7.00" fill="#2c2c62"/>
<rect x="403.30" y="503.40" width="1.00" height="7.00" fill="#2c2c62"/>
<rect x="419.50" y="503.40" width="1.00" height="7.00" fill="#2c2c62"/>
<rect x="432.00" y="503.40" width="1.00" height="7.00" fill="#2c2c62"/>
<rect x="434.10" y="503.40" width="1.00" height="7.00" fill="#2c2c62"/>
<rect x="235.45" y="503.40" width="0.90" height="7.00" fill="#2c2c62"/>
<rect x="440.20" y="504.90" width="3.00" height="4.00" fill="#2a2a70"/>
<line x1="200.50" y1="513.80" x2="443.20" y2="513.80" stroke="#4a4a92" stroke-width="1.0"/>
<path d="M201.50,512.80L202.50,513.80L201.50,514.80M205.00,512.80L206.00,513.80L205.00,514.80M208.50,512.80L209.50,513.80L208.50,514.80M212.00,512.80L213.00,513.80L212.00,514.80M215.50,512.80L216.50,513.80L215.50,514.80M219.00,512.80L220.00,513.80L219.00,514.80M222.50,512.80L223.50,513.80L222.50,514.80M226.00,512.80L227.00,513.80L226.00,514.80M229.50,512.80L230.50,513.80L229.50,514.80M233.00,512.80L234.00,513.80L233.00,514.80M236.50,512.80L237.50,513.80L236.50,514.80M240.00,512.80L241.00,513.80L240.00,514.80M243.50,512.80L244.50,513.80L243.50,514.80M247.00,512.80L248.00,513.80L247.00,514.80M250.50,512.80L251.50,513.80L250.50,514.80M254.00,512.80L255.00,513.80L254.00,514.80M257.50,512.80L258.50,513.80L257.50,514.80M261.00,512.80L262.00,513.80L261.00,514.80M264.50,512.80L265.50,513.80L264.50,514.80M268.00,512.80L269.00,513.80L268.00,514.80M271.50,512.80L272.50,513.80L271.50,514.80M275.00,512.80L276.00,513.80L275.00,514.80M278.50,512.80L279.50,513.80L278.50,514.80M282.00,512.80L283.00,513.80L282.00,514.80M285.50,512.80L286.50,513.80L285.50,514.80M289.00,512.80L290.00,513.80L289.00,514.80M292.50,512.80L293.50,513.80L292.50,514.80M296.00,512.80L297.00,513.80L296.00,514.80M299.50,512.80L300.50,513.80L299.50,514.80M303.00,512.80L304.00,513.80L303.00,514.80M306.50,512.80L307.50,513.80L306.50,514.80M310.00,512.80L311.00,513.80L310.00,514.80M313.50,512.80L314.50,513.80L313.50,514.80M317.00,512.80L318.00,513.80L317.00,514.80M320.50,512.80L321.50,513.80L320.50,514.80M324.00,512.80L325.00,513.80L324.00,514.80M327.50,512.80L328.50,513.80L327.50,514.80M331.00,512.80L332.00,513.80L331.00,514.80M334.50,512.80L335.50,513.80L334.50,514.80M338.00,512.80L339.00,513.80L338.00,514.80M341.50,512.80L342.50,513.80L341.50,514.80M345.00,512.80L346.00,513.80L345.00,514.80M348.50,512.80L349.50,513.80L348.50,514.80M352.00,512.80L353.00,513.80L352.00,514.80M355.50,512.80L356.50,513.80L355.50,514.80M359.00,512.80L360.00,513.80L359.00,514.80M362.50,512.80L363.50,513.80L362.50,514.80M366.00,512.80L367.00,513.80L366.00,514.80M369.50,512.80L370.50,513.80L369.50,514.80M373.00,512.80L374.00,513.80L373.00,514.80M376.50,512.80L377.50,513.80L376.50,514.80M380.00,512.80L381.00,513.80L380.00,514.80M383.50,512.80L384.50,513.80L383.50,514.80M387.00,512.80L388.00,513.80L387.00,514.80M390.50,512.80L391.50,513.80L390.50,514.80M394.00,512.80L395.00,513.80L394.00,514.80M397.50,512.80L398.50,513.80L397.50,514.80M401.00,512.80L402.00,513.80L401.00,514.80M404.50,512.80L405.50,513.80L404.50,514.80M408.00,512.80L409.00,513.80L408.00,514.80M411.50,512.80L412.50,513.80L411.50,514.80M415.00,512.80L416.00,513.80L415.00,514.80M418.50,512.80L419.50,513.80L418.50,514.80M422.00,512.80L423.00,513.80L422.00,514.80M425.50,512.80L426.50,513.80L425.50,514.80M429.00,512.80L430.00,513.80L429.00,514.80M432.50,512.80L433.50,513.80L432.50,514.80M436.00,512.80L437.00,513.80L436.00,514.80M439.50,512.80L440.50,513.80L439.50,514.80" stroke="#38386e" stroke-width="0.8" fill="none"/>
<rect x="264.50" y="510.30" width="1.00" height="7.00" fill="#2c2c62"/>
<rect x="275.70" y="510.30" width="1.00" height="7.00" fill="#2c2c62"/>
<rect x="315.00" y="510.30" width="1.00" height="7.00" fill="#2c2c62"/>
<rect x="338.30" y="510.30" width="1.00" height="7.00" fill="#2c2c62"/>
<rect x="373.50" y="510.30" width="1.00" height="7.00" fill="#2c2c62"/>
<rect x="380.10" y="510.30" width="1.00" height="7.00" fill="#2c2c62"/>
<rect x="400.00" y="510.30" width="1.00" height="7.00" fill="#2c2c62"/>
<rect x="401.50" y="510.30" width="1.00" height="7.00" fill="#2c2c62"/>
<rect x="403.30" y="510.30" width="1.00" height="7.00" fill="#2c2c62"/>
<rect x="419.50" y="510.30" width="1.00" height="7.00" fill="#2c2c62"/>
<rect x="432.00" y="510.30" width="1.00" height="7.00" fill="#2c2c62"/>
<rect x="434.10" y="510.30" width="1.00" height="7.00" fill="#2c2c62"/>
<rect x="200.45" y="510.30" width="0.90" height="7.00" fill="#2c2c62"/>
<rect x="440.20" y="511.80" width="3.00" height="4.00" fill="#2a2a70"/>
<text transform="translate(49.70,551.60) rotate(-90)" x="0" y="0" font-size="8.26" fill="#b03030" font-weight="normal" textLength="30.60" lengthAdjust="spacingAndGlyphs" stroke="#b03030" stroke-width="0.4">RNA-seq</text>
<text x="56.10" y="532.00" font-size="8.55" fill="#a83232" font-weight="normal" textLength="36.10" lengthAdjust="spacingAndGlyphs" stroke="#a83232" stroke-width="0.4">KLF1 null</text>
<text x="56.10" y="547.70" font-size="8.55" fill="#3d7a3d" font-weight="normal" textLength="26.60" lengthAdjust="spacingAndGlyphs" stroke="#3d7a3d" stroke-width="0.4">Ortho</text>
<text transform="translate(49.70,588.80) rotate(-90)" x="0" y="0" font-size="8.26" fill="#000" font-weight="normal" textLength="31.30" lengthAdjust="spacingAndGlyphs" stroke="#000" stroke-width="0.4">ChIP-seq</text>
<text x="55.40" y="568.10" font-size="8.41" fill="#000" font-weight="normal" textLength="19.10" lengthAdjust="spacingAndGlyphs" stroke="#000" stroke-width="0.4">KLF1</text>
<text x="56.10" y="584.10" font-size="8.84" fill="#000" font-weight="normal" textLength="18.40" lengthAdjust="spacingAndGlyphs" stroke="#000" stroke-width="0.4">Input</text>
<text x="55.40" y="599.10" font-size="8.84" fill="#3a3a8e" font-weight="normal" textLength="30.00" lengthAdjust="spacingAndGlyphs" stroke="#3a3a8e" stroke-width="0.4">DNase1</text>
<polygon points="97.50,535.50 99.75,535.50 100.00,535.13 100.25,535.50 112.00,535.50 112.25,535.41 112.50,535.50 126.25,535.50 126.50,535.29 126.75,535.50 129.25,535.50 129.50,534.81 129.75,535.50 130.00,534.91 130.25,535.50 132.50,535.50 132.75,535.05 133.00,535.50 136.00,535.50 136.25,534.81 136.50,534.45 136.75,534.32 137.00,534.30 137.25,534.32 137.50,534.45 137.75,534.81 138.00,535.50 146.75,535.50 147.00,534.86 147.25,535.50 156.00,535.50 156.25,535.19 156.50,535.50 166.50,535.50 166.75,535.00 167.00,535.50 167.75,535.50 168.00,534.96 168.25,535.50 172.50,535.50 172.75,534.92 173.00,535.50 188.00,535.50 188.25,535.15 188.50,535.50 189.00,535.50 189.25,534.92 189.50,534.62 189.75,534.52 190.00,534.50 190.25,534.52 190.50,534.62 190.75,534.92 191.00,535.50 193.75,535.50 194.00,535.08 194.25,535.50 194.50,534.83 194.75,535.50 201.75,535.50 202.00,534.84 202.25,535.50 215.00,535.50 215.25,534.78 215.50,535.50 219.00,535.50 219.25,534.86 219.50,535.50 227.75,535.50 228.00,535.20 228.25,535.50 249.00,535.50 249.25,534.92 249.50,534.62 249.75,534.52 250.00,534.50 250.25,534.52 250.50,534.62 250.75,534.92 251.00,535.50 254.00,535.50 254.25,535.41 254.50,535.50 261.00,535.50 261.25,534.92 261.50,534.62 261.75,534.52 262.00,534.50 262.25,534.52 262.50,534.62 262.75,534.92 263.00,534.70 263.25,535.50 294.25,535.50 294.50,535.21 294.75,535.50 299.00,535.50 299.25,534.92 299.50,534.62 299.75,534.52 300.00,534.50 300.25,534.52 300.50,534.62 300.75,534.92 301.00,535.50 333.50,535.50 333.75,534.96 334.00,535.50 335.00,535.50 335.25,534.63 335.50,534.19 335.75,534.02 336.00,534.00 336.25,534.02 336.50,534.19 336.75,534.63 337.00,535.50 354.50,535.50 354.75,534.89 355.00,535.50 360.00,535.50 360.25,535.25 360.50,535.50 369.75,535.50 370.00,534.84 370.25,535.20 370.50,535.50 373.50,535.50 373.75,535.42 374.00,535.50 380.75,535.50 381.00,532.72 381.25,528.94 381.50,528.02 381.75,528.07 382.00,529.40 382.25,534.00 382.50,535.50 402.25,535.50 402.50,534.50 402.75,535.50 407.50,535.50 407.75,534.67 408.00,535.50 411.75,535.50 412.00,534.94 412.25,535.50 415.75,535.50 416.00,534.63 416.25,535.50 419.00,535.50 419.25,534.63 419.50,534.19 419.75,534.02 420.00,534.00 420.25,534.02 420.50,534.19 420.75,534.63 421.00,535.50 423.25,535.50 423.50,535.37 423.75,535.50 434.75,535.50 435.00,534.75 435.25,535.50 437.75,535.50 438.00,534.70 438.25,535.50 447.00,535.50 447.25,535.41 447.50,535.50 447.75,534.61 448.00,535.50 452.75,535.50 453.00,535.04 453.25,535.50 454.00,535.50 454.25,534.34 454.50,533.75 454.75,533.53 455.00,533.50 455.25,533.53 455.50,533.75 455.75,534.34 456.00,535.50 462.00,535.50 462.25,535.44 462.50,535.50 462.75,534.54 463.00,535.50 469.00,535.50 469.25,534.63 469.50,534.19 469.75,534.02 470.00,534.00 470.25,534.02 470.50,534.19 470.75,534.63 471.00,535.50 477.25,535.50 477.50,535.23 477.75,535.50 487.00,535.50 487.25,534.92 487.50,534.62 487.75,534.52 488.00,534.50 488.25,534.52 488.50,534.62 488.75,534.92 489.00,535.50 500.75,535.50 501.00,534.84 501.25,535.50 501.70,535.50" fill="#9a3040"/>
<path d="M97.50,535.50h1.90M101.16,535.50h1.16M106.97,535.50h2.56M113.23,535.50h2.48M118.12,535.50h3.09M124.43,535.50h3.26M131.27,535.50h3.45M137.36,535.50h1.13M139.92,535.50h3.06M144.48,535.50h2.83M150.72,535.50h0.80M155.61,535.50h0.71M160.77,535.50h3.46M165.93,535.50h3.07M172.88,535.50h1.03M177.52,535.50h1.02M183.17,535.50h2.94M191.03,535.50h0.78M193.95,535.50h2.71M200.01,535.50h1.22M205.76,535.50h3.48M211.30,535.50h1.10M216.00,535.50h1.98M221.57,535.50h2.28M226.31,535.50h0.67M228.35,535.50h2.16M234.36,535.50h2.05M240.34,535.50h2.44M247.27,535.50h2.83M252.25,535.50h1.07M254.40,535.50h0.73M259.56,535.50h3.57M267.09,535.50h0.97M271.63,535.50h1.03M277.20,535.50h2.83M283.98,535.50h2.67M289.20,535.50h3.48M297.53,535.50h1.42M301.59,535.50h3.09M308.34,535.50h2.00M313.02,535.50h3.89M318.87,535.50h1.32M323.87,535.50h1.54M329.98,535.50h1.71M336.37,535.50h1.89M342.78,535.50h3.15M349.81,535.50h1.33M352.63,535.50h0.71M354.89,535.50h2.87M358.83,535.50h1.41M363.42,535.50h1.13M366.73,535.50h1.38M371.74,535.50h1.00M377.74,535.50h2.64M384.17,535.50h2.48M389.54,535.50h3.90M397.99,535.50h3.39M402.31,535.50h2.60M409.67,535.50h2.77M415.39,535.50h2.81M419.75,535.50h3.07M426.91,535.50h0.84M430.70,535.50h2.62M435.60,535.50h2.92M443.19,535.50h3.68M448.96,535.50h1.12M454.47,535.50h2.68M461.43,535.50h3.55M466.96,535.50h2.60M471.63,535.50h3.31M478.65,535.50h1.41M482.96,535.50h2.62M487.36,535.50h1.22M491.37,535.50h0.85M495.09,535.50h3.80" stroke="#a84050" stroke-width="0.9" fill="none" stroke-opacity="0.75"/>
<polygon points="94.40,552.60 125.90,552.60 126.15,552.45 126.40,552.60 178.15,552.60 178.40,552.28 178.65,552.60 229.65,552.60 229.90,552.44 230.15,552.60 234.15,552.60 234.40,552.45 234.65,552.60 240.65,552.60 240.90,552.40 241.15,552.60 241.40,552.60 241.65,552.44 241.90,552.60 264.90,552.60 265.15,550.21 265.40,543.50 265.65,542.21 265.90,542.59 266.15,546.59 266.40,552.60 274.65,552.60 274.90,549.99 275.15,546.85 275.40,546.40 275.65,546.85 275.90,549.99 276.15,552.60 315.65,552.60 315.90,550.49 316.15,547.96 316.40,547.60 316.65,547.96 316.90,550.49 317.15,552.60 337.40,552.60 337.65,549.75 337.90,546.66 338.15,545.15 338.40,544.65 338.65,544.60 338.90,544.76 339.15,545.60 339.40,547.68 339.65,551.56 339.90,552.60 364.90,552.60 365.15,552.44 365.40,552.60 370.90,552.60 371.15,549.97 371.40,548.63 371.65,548.71 371.90,550.65 372.15,552.60 374.15,552.60 374.40,550.65 374.65,548.71 374.90,548.63 375.15,549.97 375.40,552.60 380.40,552.60 380.65,549.97 380.90,548.63 381.15,548.71 381.40,550.65 381.65,552.60 382.15,552.60 382.40,552.27 382.65,552.60 398.15,552.60 398.40,552.28 398.65,552.60 400.40,552.60 400.65,551.60 400.90,548.00 401.15,546.24 401.40,545.66 401.65,545.60 401.90,545.79 402.15,546.76 402.40,548.38 402.65,547.52 402.90,547.17 403.15,547.10 403.40,547.12 403.65,547.33 403.90,547.96 404.15,549.25 404.40,550.37 404.65,546.81 404.90,545.38 405.15,545.10 405.40,545.18 405.65,546.04 405.90,548.63 406.15,552.60 412.90,552.60 413.15,552.22 413.40,552.60 415.65,552.60 415.90,552.44 416.15,552.60 419.65,552.60 419.90,549.86 420.15,549.10 420.40,549.32 420.65,551.65 420.90,552.60 427.40,552.60 427.65,552.22 427.90,552.60 431.40,552.60 431.65,551.60 431.90,548.53 432.15,547.65 432.40,547.61 432.65,548.22 432.90,550.75 433.15,552.60 433.40,552.60 433.65,550.03 433.90,547.99 434.15,547.60 434.40,547.72 434.65,548.93 434.90,552.60 439.40,552.60 439.65,551.74 439.90,548.66 440.15,547.15 440.40,546.65 440.65,546.60 440.90,546.76 441.15,547.60 441.40,547.35 441.65,546.75 441.90,546.60 442.15,546.61 442.40,546.82 442.65,547.55 442.90,546.44 443.15,546.10 443.40,546.20 443.65,547.26 443.90,550.45 444.00,552.60" fill="#4e7e4e"/>
<path d="M94.40,552.60h0.67M105.73,552.60h0.87M114.69,552.60h1.88M128.29,552.60h1.46M138.23,552.60h0.64M146.63,552.60h1.31M160.31,552.60h1.64M173.26,552.60h1.42M179.62,552.60h2.22M193.86,552.60h1.31M199.23,552.60h1.57M209.26,552.60h2.07M220.89,552.60h1.56M231.78,552.60h1.32M236.64,552.60h0.72M250.71,552.60h2.19M259.17,552.60h2.29" stroke="#707a70" stroke-width="0.9" fill="none" stroke-opacity="0.8"/>
<path d="M270.00,552.60h2.92M276.86,552.60h5.28M284.44,552.60h1.97M288.04,552.60h1.41M290.99,552.60h1.61M296.42,552.60h5.95M306.98,552.60h2.77M313.07,552.60h4.39M320.43,552.60h1.18M326.90,552.60h4.01M332.92,552.60h1.16M336.01,552.60h5.79M343.78,552.60h4.05M353.69,552.60h0.98M357.91,552.60h3.28M366.82,552.60h1.78M371.26,552.60h2.09M375.07,552.60h4.30M384.55,552.60h3.07M389.29,552.60h4.51M398.62,552.60h4.20M405.80,552.60h5.12M415.25,552.60h3.87M423.05,552.60h2.01M428.62,552.60h4.93M438.12,552.60h2.60" stroke="#6a8a6a" stroke-width="0.9" fill="none" stroke-opacity="0.8"/>
<line x1="275.40" y1="552.60" x2="298.30" y2="552.60" stroke="#6a8a6a" stroke-width="0.8" stroke-opacity="0.85"/>
<line x1="338.00" y1="552.60" x2="348.00" y2="552.60" stroke="#6a8a6a" stroke-width="0.8" stroke-opacity="0.85"/>
<line x1="405.00" y1="552.60" x2="432.00" y2="552.60" stroke="#6a8a6a" stroke-width="0.8" stroke-opacity="0.85"/>
<line x1="434.00" y1="552.60" x2="443.50" y2="552.60" stroke="#6a8a6a" stroke-width="0.8" stroke-opacity="0.85"/>
<polygon points="99.50,570.20 99.50,570.10 99.75,570.20 100.25,570.20 100.50,569.99 100.75,570.20 107.00,570.20 107.25,569.54 107.50,570.20 109.25,570.20 109.50,569.90 109.75,570.20 112.75,570.20 113.00,570.03 113.25,570.20 113.75,570.20 114.00,569.84 114.25,570.20 116.25,570.20 116.50,570.11 116.75,570.20 117.00,570.03 117.25,570.20 119.50,570.20 119.75,570.10 120.00,570.20 122.00,570.20 122.25,569.86 122.50,570.20 122.75,570.20 123.00,570.09 123.25,570.20 123.50,569.65 123.75,570.20 129.50,570.20 129.75,569.82 130.00,570.20 132.25,570.20 132.50,569.65 132.75,570.20 134.25,570.20 134.50,569.40 134.75,567.82 135.00,566.82 135.25,566.41 135.50,566.59 135.75,567.35 136.00,568.70 136.25,569.98 136.50,570.20 137.75,570.20 138.00,569.47 138.25,568.01 138.50,567.09 138.75,566.71 139.00,566.87 139.25,567.58 139.50,568.82 139.75,570.20 141.75,570.20 142.00,569.68 142.25,569.44 142.50,568.47 142.75,567.89 143.00,567.70 143.25,567.89 143.50,568.47 143.75,569.44 144.00,570.20 146.00,570.20 146.25,569.34 146.50,570.20 147.25,570.20 147.50,569.98 147.75,570.20 148.25,570.20 148.50,569.92 148.75,569.83 149.00,570.20 149.50,570.20 149.75,569.48 150.00,570.20 152.00,570.20 152.25,569.43 152.50,569.69 152.75,570.20 154.25,570.20 154.50,569.54 154.75,570.20 162.50,570.20 162.75,569.49 163.00,570.20 163.50,570.20 163.75,570.11 164.00,570.20 165.25,570.20 165.50,569.66 165.75,570.20 170.50,570.20 170.75,569.65 171.00,570.20 178.00,570.20 178.25,569.39 178.50,570.20 179.00,570.20 179.25,569.47 179.50,570.20 180.00,570.20 180.25,569.83 180.50,570.20 180.75,569.93 181.00,570.20 181.25,569.84 181.50,570.20 181.75,570.20 182.00,570.13 182.25,570.20 186.00,570.20 186.25,569.70 186.50,570.20 187.50,570.20 187.75,569.38 188.00,570.20 192.00,570.20 192.25,569.78 192.50,570.20 193.25,570.20 193.50,569.67 193.75,570.20 195.00,570.20 195.25,569.98 195.50,570.20 199.25,570.20 199.50,569.35 199.75,570.20 200.00,570.20 200.25,569.39 200.50,570.20 204.00,570.20 204.25,569.97 204.50,569.60 204.75,570.20 206.50,570.20 206.75,569.69 207.00,570.20 207.25,569.70 207.50,570.13 207.75,570.20 209.50,570.20 209.75,570.05 210.00,570.20 214.00,570.20 214.25,569.37 214.50,570.20 215.75,570.20 216.00,569.97 216.25,570.20 217.75,570.20 218.00,569.88 218.25,570.20 220.50,570.20 220.75,569.41 221.00,570.20 222.50,570.20 222.75,569.63 223.00,570.20 225.50,570.20 225.75,569.93 226.00,570.20 229.25,570.20 229.50,569.45 229.75,570.20 231.25,570.20 231.50,570.12 231.75,570.20 233.50,570.20 233.75,569.45 234.00,570.20 234.25,570.20 234.50,570.03 234.75,569.69 235.00,570.20 238.00,570.20 238.25,569.47 238.50,570.20 240.75,570.20 241.00,569.63 241.25,570.20 243.50,570.20 243.75,569.46 244.00,570.20 245.25,570.20 245.50,570.08 245.75,570.03 246.00,570.20 246.25,570.20 246.50,569.76 246.75,570.20 248.25,570.20 248.50,569.77 248.75,570.20 254.25,570.20 254.50,569.95 254.75,570.03 255.00,570.20 255.50,570.20 255.75,569.53 256.00,569.56 256.25,569.88 256.50,570.20 256.75,570.20 257.00,569.85 257.25,570.20 260.75,570.20 261.00,569.33 261.25,570.20 262.50,570.20 262.75,569.78 263.00,570.20 266.50,570.20 266.75,569.60 267.00,570.20 270.25,570.20 270.50,569.83 270.75,570.20 273.50,570.20 273.75,569.46 274.00,570.20 276.50,570.20 276.75,569.71 277.00,570.20 278.00,570.20 278.25,569.32 278.50,570.20 281.50,570.20 281.75,569.80 282.00,570.20 282.25,570.20 282.50,570.02 282.75,570.20 285.25,570.20 285.50,569.70 285.75,570.20 291.50,570.20 291.75,569.66 292.00,570.20 293.50,570.20 293.75,568.09 294.00,566.76 294.25,566.22 294.50,566.45 294.75,567.47 295.00,569.26 295.25,570.20 295.75,570.20 296.00,569.91 296.25,570.20 301.75,570.20 302.00,570.01 302.25,569.50 302.50,570.20 302.75,570.20 303.00,569.48 303.25,570.20 303.50,569.31 303.75,570.20 305.00,570.20 305.25,569.42 305.50,570.20 308.75,570.20 309.00,569.87 309.25,570.20 310.00,570.20 310.25,569.57 310.50,570.20 312.50,570.20 312.75,569.35 313.00,570.20 313.75,570.20 314.00,569.65 314.25,570.20 318.50,570.20 318.75,569.95 319.00,570.20 319.50,570.20 319.75,570.04 320.00,570.20 320.25,569.57 320.50,570.20 320.75,570.20 321.00,570.08 321.25,570.20 321.50,570.20 321.75,569.77 322.00,570.20 322.25,570.20 322.50,569.60 322.75,570.20 323.25,570.20 323.50,569.69 323.75,570.20 331.75,570.20 332.00,569.59 332.25,570.20 333.00,570.20 333.25,569.46 333.50,570.20 335.50,570.20 335.75,568.09 336.00,566.76 336.25,566.22 336.50,566.45 336.75,567.47 337.00,569.26 337.25,570.20 337.50,570.05 337.75,570.20 341.50,570.20 341.75,570.10 342.00,569.57 342.25,570.20 342.50,569.75 342.75,570.20 344.75,570.18 345.00,570.13 345.25,570.20 346.00,570.20 346.25,569.83 346.50,570.20 347.50,570.20 347.75,569.30 348.00,570.20 348.25,570.20 348.50,570.10 348.75,570.20 349.75,570.20 350.00,570.02 350.25,570.20 354.00,570.20 354.25,569.94 354.50,570.20 355.00,570.20 355.25,569.82 355.50,570.20 357.75,570.20 358.00,569.86 358.25,570.20 363.00,570.20 363.25,569.34 363.50,570.20 363.75,570.20 364.00,569.64 364.25,570.20 365.50,570.20 365.75,569.90 366.00,570.20 369.25,570.20 369.50,569.54 369.75,570.20 370.75,570.20 371.00,569.38 371.25,569.73 371.50,570.14 371.75,570.20 374.00,570.20 374.25,569.84 374.50,570.20 377.50,570.20 377.75,570.00 378.00,570.20 381.75,570.20 382.00,569.55 382.25,570.20 382.50,569.39 382.75,570.20 386.75,570.20 387.00,569.93 387.25,570.20 388.25,570.20 388.50,569.64 388.75,570.20 394.25,570.20 394.50,570.09 394.75,570.20 399.25,570.20 399.50,569.60 399.75,570.20 403.50,570.20 403.75,570.01 404.00,569.57 404.25,570.20 404.50,569.31 404.75,570.20 405.50,570.20 405.75,570.10 406.00,570.20 419.00,570.20 419.25,569.43 419.50,570.20 422.75,570.20 423.00,569.47 423.25,570.20 425.75,570.20 426.00,569.67 426.25,570.20 426.75,570.20 427.00,570.03 427.25,570.20 428.50,570.20 428.75,569.91 429.00,570.20 430.75,570.20 431.00,569.38 431.25,570.20 433.50,570.20 433.75,569.37 434.00,570.20 434.75,570.20 435.00,569.46 435.25,570.20 437.00,570.20 437.25,569.40 437.50,570.20 437.75,570.20 438.00,569.57 438.25,570.20 441.00,570.20 441.25,568.09 441.50,566.76 441.75,566.22 442.00,566.45 442.25,567.47 442.50,569.26 442.75,569.33 443.00,568.70 443.25,568.33 443.50,568.20 443.75,568.33 444.00,568.70 444.25,569.33 444.50,570.20 445.00,570.20 445.25,569.75 445.50,570.20 449.25,570.20 449.50,569.95 449.75,570.20 451.75,570.20 452.00,569.81 452.25,570.20 452.50,570.20 452.75,569.89 453.00,570.20 454.50,570.20 454.75,569.90 455.00,570.20 455.50,570.20 455.75,569.98 456.00,570.20 459.00,570.20 459.25,569.76 459.50,569.45 459.75,569.26 460.00,569.20 460.25,569.26 460.50,569.45 460.75,569.76 461.00,569.32 461.25,570.20 467.00,570.20 467.25,569.41 467.50,570.20 469.00,570.20 469.25,569.76 469.50,569.45 469.75,569.26 470.00,569.20 470.25,569.26 470.50,569.45 470.75,569.76 471.00,570.20 472.50,570.20 472.75,569.47 473.00,570.20 476.50,570.20 476.75,569.46 477.00,570.20 478.00,570.20 478.25,569.99 478.50,570.20 479.00,570.20 479.25,569.31 479.50,570.20 485.25,570.20 485.50,569.86 485.75,570.20 487.00,570.20 487.25,569.41 487.50,570.20 489.50,570.20 489.75,569.41 490.00,570.20 490.50,570.20 490.75,569.98 491.00,570.20 492.25,570.20 492.50,569.68 492.75,570.20 493.00,570.20 493.25,569.75 493.50,570.20 494.00,570.20 494.25,569.80 494.50,569.40 494.75,570.20 496.25,570.20 496.50,569.40 496.75,570.14 497.00,570.20 497.50,570.20 497.75,569.39 498.00,570.20 499.50,570.20 499.75,569.64 500.00,570.20 500.50,570.20 500.75,569.31 500.80,570.20" fill="#111"/>
<path d="M99.50,570.20h8.35M108.79,570.20h5.31M114.87,570.20h5.16M120.44,570.20h8.54M129.51,570.20h8.98M139.70,570.20h4.57M145.36,570.20h6.16M152.80,570.20h15.79M169.22,570.20h17.57M187.98,570.20h5.20M194.03,570.20h15.21M210.65,570.20h6.76M218.08,570.20h16.40M235.94,570.20h5.50M241.94,570.20h16.02M258.71,570.20h10.19M270.26,570.20h15.93M287.32,570.20h17.88M306.41,570.20h16.96M324.48,570.20h13.49M338.44,570.20h18.55M358.39,570.20h9.62M369.11,570.20h4.27M374.33,570.20h13.97M389.02,570.20h10.63M400.97,570.20h6.29M408.17,570.20h5.38M414.37,570.20h18.12M433.57,570.20h4.46M439.38,570.20h14.53M454.88,570.20h8.62M464.23,570.20h6.93M472.24,570.20h4.80M478.47,570.20h5.64M485.21,570.20h13.21M499.22,570.20h1.58" stroke="#222" stroke-width="1.0" fill="none"/>
<polygon points="96.50,587.30 97.00,587.30 97.25,586.32 97.50,587.30 97.75,587.30 98.00,586.32 98.25,587.30 100.50,587.30 100.75,586.39 101.00,587.30 102.25,587.30 102.50,587.22 102.75,587.30 103.00,586.98 103.25,587.30 103.50,587.30 103.75,586.82 104.00,586.89 104.25,586.51 104.50,587.30 104.75,587.30 105.00,587.13 105.25,585.99 105.50,587.30 105.75,587.30 106.00,587.08 106.25,586.83 106.50,586.89 106.75,587.01 107.00,587.30 108.50,587.30 108.75,586.58 109.00,587.30 109.25,587.30 109.50,585.99 109.75,586.49 110.00,587.30 110.75,587.30 111.00,586.56 111.25,587.30 111.50,587.17 111.75,587.30 112.75,587.30 113.00,585.99 113.25,587.30 113.50,587.30 113.75,586.70 114.00,587.30 114.25,587.30 114.50,587.02 114.75,587.30 115.00,587.30 115.25,586.36 115.50,587.30 118.50,587.30 118.75,587.16 119.00,586.42 119.25,587.30 119.50,587.02 119.75,587.30 120.00,585.91 120.25,587.30 121.00,587.30 121.25,585.89 121.50,587.30 122.00,587.30 122.25,587.24 122.50,586.13 122.75,587.30 123.00,587.13 123.25,587.30 125.75,587.30 126.00,586.80 126.25,587.30 126.75,587.30 127.00,587.18 127.25,587.11 127.50,586.68 127.75,586.10 128.00,587.30 128.75,587.26 129.00,586.79 129.25,587.30 129.50,586.84 129.75,587.30 130.00,586.63 130.25,587.30 130.50,586.21 130.75,587.24 131.00,585.83 131.25,587.30 131.50,585.84 131.75,587.30 132.50,587.30 132.75,586.94 133.00,587.30 134.00,587.30 134.25,586.36 134.50,587.00 134.75,587.30 135.25,587.30 135.50,586.20 135.75,587.30 136.00,587.30 136.25,586.30 136.50,587.30 137.25,587.30 137.50,586.15 137.75,586.97 138.00,587.05 138.25,587.30 138.50,587.30 138.75,586.66 139.00,587.30 139.25,584.09 139.50,580.88 139.75,581.52 140.00,584.73 140.25,587.30 140.50,585.99 140.75,587.30 143.50,587.30 143.75,586.61 144.00,587.30 144.25,586.92 144.50,587.30 146.00,587.30 146.25,586.62 146.50,587.30 146.75,586.40 147.00,587.30 148.25,587.30 148.50,586.06 148.75,587.30 150.00,587.30 150.25,587.13 150.50,587.30 150.75,587.30 151.00,586.23 151.25,586.67 151.50,587.30 152.50,587.30 152.75,586.94 153.00,587.28 153.75,587.30 154.00,585.82 154.25,586.65 154.50,587.30 154.75,585.86 155.00,587.30 155.25,587.03 155.50,587.30 156.00,587.30 156.25,586.81 156.50,587.30 157.00,587.30 157.25,586.50 157.50,587.30 158.75,587.30 159.00,586.36 159.25,587.05 159.50,587.30 159.75,586.34 160.00,587.30 160.25,586.35 160.50,586.79 160.75,587.30 162.00,587.30 162.25,586.30 162.50,586.46 162.75,587.30 168.25,587.30 168.50,586.34 168.75,587.30 169.00,587.30 169.25,586.16 169.50,587.30 169.75,587.09 170.00,586.47 170.25,587.30 170.50,586.11 170.75,586.99 171.00,587.30 172.50,587.30 172.75,587.00 173.00,587.30 173.25,587.30 173.50,586.93 173.75,587.30 175.50,587.30 175.75,586.66 176.00,587.30 176.25,586.75 176.50,587.30 176.75,587.13 177.00,587.30 177.75,587.30 178.00,586.50 178.25,586.58 178.50,587.30 179.50,587.30 179.75,586.70 180.00,587.30 183.00,587.30 183.25,586.84 183.50,587.30 183.75,587.02 184.00,587.30 184.25,587.30 184.50,586.10 184.75,587.30 185.00,586.27 185.25,586.97 185.50,586.34 185.75,587.30 187.00,587.30 187.25,587.06 187.50,587.30 188.75,587.30 189.00,586.66 189.25,587.30 190.75,587.30 191.00,586.99 191.25,587.30 192.00,587.30 192.25,586.57 192.50,587.30 193.00,587.30 193.25,586.46 193.50,587.30 193.75,586.65 194.00,587.30 194.25,586.14 194.50,587.30 194.75,585.82 195.00,587.30 195.25,585.82 195.50,587.30 195.75,587.30 196.00,586.12 196.25,587.30 196.50,587.30 196.75,586.58 197.00,587.30 197.25,587.30 197.50,586.81 197.75,587.30 198.50,587.30 198.75,586.37 199.00,586.00 199.25,587.30 200.00,587.30 200.25,587.20 200.50,587.30 202.75,587.30 203.00,586.61 203.25,587.30 205.50,587.30 205.75,585.95 206.00,587.30 206.25,587.17 206.50,587.30 206.75,586.04 207.00,587.30 207.25,587.30 207.50,586.78 207.75,587.30 208.25,587.30 208.50,587.20 208.75,587.30 209.00,587.30 209.25,587.16 209.50,587.30 210.25,587.30 210.50,586.11 210.75,587.30 211.50,587.30 211.75,586.19 212.00,587.30 212.25,587.30 212.50,586.16 212.75,587.30 213.50,587.30 213.75,585.89 214.00,587.30 217.00,587.30 217.25,586.41 217.50,587.30 217.75,587.30 218.00,586.88 218.25,587.30 218.75,587.30 219.00,586.41 219.25,586.91 219.50,587.30 219.75,587.30 220.00,587.03 220.25,587.30 220.50,587.30 220.75,585.84 221.00,586.35 221.25,586.06 221.50,587.30 223.50,587.30 223.75,587.20 224.00,586.09 224.25,586.17 224.50,587.30 225.25,587.30 225.50,585.96 225.75,587.30 226.00,586.01 226.25,586.32 226.50,586.64 226.75,587.30 227.25,587.30 227.50,585.93 227.75,585.85 228.00,586.28 228.25,587.30 228.75,587.30 229.00,585.85 229.25,586.29 229.50,587.30 230.50,587.30 230.75,585.93 231.00,587.30 231.25,586.60 231.50,587.30 231.75,586.02 232.00,587.30 232.25,587.30 232.50,586.21 232.75,587.30 234.75,587.30 235.00,586.81 235.25,587.30 235.50,587.07 235.75,586.97 236.00,586.20 236.25,587.30 237.00,587.30 237.25,586.44 237.50,587.30 237.75,585.95 238.00,587.30 238.75,587.30 239.00,585.99 239.25,587.30 239.50,587.30 239.75,586.49 240.00,586.06 240.25,587.30 241.00,587.30 241.25,586.93 241.50,587.30 243.75,587.30 244.00,586.34 244.25,587.30 244.50,586.56 244.75,585.88 245.00,586.48 245.25,586.84 245.50,587.30 246.50,587.30 246.75,585.91 247.00,587.30 247.25,586.05 247.50,586.68 247.75,587.30 248.00,587.30 248.25,586.86 248.50,587.30 249.50,587.30 249.75,586.69 250.00,587.30 250.75,587.30 251.00,586.30 251.25,587.30 251.75,587.30 252.00,586.25 252.25,587.26 252.50,586.79 252.75,587.30 253.75,587.30 254.00,586.10 254.25,587.30 255.50,587.30 255.75,586.00 256.00,586.89 256.25,587.30 256.50,587.30 256.75,585.95 257.00,587.30 257.25,586.78 257.50,587.30 257.75,586.22 258.00,587.17 258.25,587.30 260.75,587.30 261.00,586.45 261.25,587.30 261.50,587.30 261.75,586.59 262.00,587.30 262.25,585.81 262.50,587.30 264.50,587.30 264.75,586.38 265.00,586.90 265.25,586.17 265.50,587.30 266.50,587.30 266.75,586.15 267.00,587.30 267.25,587.09 267.50,587.30 268.00,587.30 268.25,586.65 268.50,587.30 269.75,587.30 270.00,586.54 270.25,585.83 270.50,585.91 270.75,586.96 271.00,587.30 272.00,587.30 272.25,586.36 272.50,587.30 272.75,587.10 273.00,587.03 273.25,587.30 274.00,587.30 274.25,586.91 274.50,587.20 274.75,586.49 275.00,587.30 275.25,587.30 275.50,586.93 275.75,587.30 276.00,587.30 276.25,586.64 276.50,587.30 276.75,587.30 277.00,586.52 277.25,587.30 277.50,586.01 277.75,587.30 278.25,587.30 278.50,585.95 278.75,586.42 279.00,587.30 279.50,587.30 279.75,586.30 280.00,586.24 280.25,587.30 281.00,587.30 281.25,586.98 281.50,586.26 281.75,587.30 282.00,585.91 282.25,586.66 282.50,587.30 282.75,586.01 283.00,586.86 283.25,587.30 283.50,587.30 283.75,586.57 284.00,587.30 284.25,585.90 284.50,585.91 284.75,587.30 285.25,587.30 285.50,586.56 285.75,587.30 286.00,586.58 286.25,587.30 287.75,587.30 288.00,586.18 288.25,587.17 288.50,586.63 288.75,587.30 289.50,587.30 289.75,586.62 290.00,587.30 290.50,587.30 290.75,585.91 291.00,585.99 291.25,587.29 292.25,587.30 292.50,586.39 292.75,587.30 293.00,587.30 293.25,587.07 293.50,587.30 293.75,586.24 294.00,587.30 295.25,587.30 295.50,587.19 295.75,587.30 296.25,587.30 296.50,585.82 296.75,587.30 297.00,587.30 297.25,587.02 297.50,586.27 297.75,587.30 299.25,587.30 299.50,586.61 299.75,587.30 301.00,587.30 301.25,586.65 301.50,587.30 303.00,587.30 303.25,586.72 303.50,587.30 303.75,587.30 304.00,586.34 304.25,587.30 305.00,587.30 305.25,586.70 305.50,586.02 305.75,587.30 308.75,587.30 309.00,586.54 309.25,587.30 309.50,586.78 309.75,587.30 311.25,587.30 311.50,586.68 311.75,587.30 312.00,586.66 312.25,587.30 312.50,587.30 312.75,586.26 313.00,587.30 313.25,586.78 313.50,586.62 313.75,587.30 314.25,587.30 314.50,585.84 314.75,586.64 315.00,586.56 315.25,587.30 316.00,587.30 316.25,586.27 316.50,587.30 316.75,586.71 317.00,586.36 317.25,586.24 317.50,587.30 317.75,586.73 318.00,587.30 318.50,587.30 318.75,586.18 319.00,587.27 319.50,587.30 319.75,587.09 320.00,587.30 320.25,587.30 320.50,586.52 320.75,587.30 321.25,587.30 321.50,586.41 321.75,587.16 322.00,587.30 322.50,587.30 322.75,587.08 323.00,587.30 324.25,587.30 324.50,586.55 324.75,587.30 325.00,586.74 325.25,587.30 325.50,586.39 325.75,587.30 327.00,587.30 327.25,585.93 327.50,587.30 327.75,587.30 328.00,586.97 328.25,587.30 328.50,587.30 328.75,586.16 329.00,587.30 329.25,586.37 329.50,587.30 329.75,587.30 330.00,586.50 330.25,585.86 330.50,585.82 330.75,586.69 331.00,585.81 331.25,587.30 331.75,587.30 332.00,586.73 332.25,586.57 332.50,586.97 332.75,586.81 333.00,587.30 334.25,587.30 334.50,586.51 334.75,587.30 335.00,587.30 335.25,585.92 335.50,587.30 335.75,587.30 336.00,586.73 336.25,587.30 336.50,586.02 336.75,587.30 339.00,587.30 339.25,585.98 339.50,587.30 340.00,587.30 340.25,587.22 340.50,587.30 340.75,587.30 341.00,586.21 341.25,585.92 341.50,587.03 341.75,586.12 342.00,587.30 342.25,587.30 342.50,586.04 342.75,587.30 343.00,585.95 343.25,587.30 343.50,586.50 343.75,587.14 344.00,586.07 344.25,587.30 344.75,587.30 345.00,587.09 345.25,585.90 345.50,587.30 345.75,587.20 346.00,587.30 346.25,587.30 346.50,586.13 346.75,587.30 347.25,587.30 347.50,586.81 347.75,587.30 348.50,587.30 348.75,586.76 349.00,587.30 350.75,587.30 351.00,586.14 351.25,587.30 351.50,587.30 351.75,586.40 352.00,587.30 352.25,587.30 352.50,586.27 352.75,587.05 353.00,587.30 353.75,587.30 354.00,586.95 354.25,587.30 354.50,587.15 354.75,585.99 355.00,587.30 355.50,587.30 355.75,586.50 356.00,586.98 356.25,587.30 356.75,587.30 357.00,586.38 357.25,587.30 358.25,587.30 358.50,586.80 358.75,587.30 360.25,587.30 360.50,585.80 360.75,587.30 361.00,586.93 361.25,586.57 361.50,587.30 361.75,586.55 362.00,587.30 362.25,586.32 362.50,586.61 362.75,587.09 363.00,587.30 363.50,587.30 363.75,587.03 364.00,587.30 364.25,587.30 364.50,586.72 364.75,586.43 365.00,586.13 365.25,586.77 365.50,587.30 365.75,586.79 366.00,587.30 367.25,587.30 367.50,586.12 367.75,587.30 368.00,586.15 368.25,587.30 368.50,587.08 368.75,586.08 369.00,587.30 369.50,587.30 369.75,586.99 370.00,586.61 370.25,587.30 372.25,587.30 372.50,587.25 372.75,586.70 373.00,587.30 373.25,586.31 373.50,587.30 374.00,587.30 374.25,586.80 374.50,587.30 374.75,587.00 375.00,586.74 375.25,587.30 376.75,587.30 377.00,585.93 377.25,587.30 378.00,587.30 378.25,586.70 378.50,587.30 382.00,587.30 382.25,586.74 382.50,587.30 383.00,587.30 383.25,586.61 383.50,587.30 384.50,587.30 384.75,586.10 385.00,587.30 385.25,587.30 385.50,586.90 385.75,587.30 386.00,585.99 386.25,587.30 386.50,587.30 386.75,587.06 387.00,587.30 387.25,587.30 387.50,586.21 387.75,587.30 388.25,587.30 388.50,586.87 388.75,587.30 389.75,587.30 390.00,585.96 390.25,587.30 390.50,587.17 390.75,587.30 392.00,587.30 392.25,587.00 392.50,587.30 392.75,587.30 393.00,585.87 393.25,587.01 393.50,586.53 393.75,587.30 394.00,586.98 394.25,587.30 395.50,587.30 395.75,586.95 396.00,587.30 398.00,587.30 398.25,586.13 398.50,587.30 398.75,586.05 399.00,587.30 399.50,587.30 399.75,586.96 400.00,586.05 400.25,587.30 400.50,587.30 400.75,586.06 401.00,586.39 401.25,587.30 403.25,587.30 403.50,586.95 403.75,587.30 404.50,587.30 404.75,586.34 405.00,586.93 405.25,587.30 405.75,587.30 406.00,587.19 406.25,587.30 406.50,586.53 406.75,587.30 407.75,587.30 408.00,586.79 408.25,587.30 408.50,587.30 408.75,586.51 409.00,587.30 409.25,587.07 409.50,587.30 409.75,587.30 410.00,586.69 410.25,587.22 410.50,586.77 410.75,587.30 411.00,586.11 411.25,587.30 411.50,586.32 411.75,586.28 412.00,587.30 412.75,587.30 413.00,587.12 413.25,587.30 413.50,587.30 413.75,586.51 414.00,587.30 414.25,586.03 414.50,587.30 414.75,587.30 415.00,586.12 415.25,587.30 418.25,587.30 418.50,586.77 418.75,587.30 419.00,587.30 419.25,586.78 419.50,587.30 419.75,586.61 420.00,587.30 420.25,587.30 420.50,586.07 420.75,587.30 422.00,587.30 422.25,586.86 422.50,587.16 422.75,586.98 423.00,587.30 426.00,587.30 426.25,586.32 426.50,586.92 426.75,587.30 428.00,587.30 428.25,585.84 428.50,586.19 428.75,587.30 429.00,586.81 429.25,587.30 431.25,587.30 431.50,587.10 431.75,587.30 432.00,587.30 432.25,587.08 432.50,587.30 433.00,587.30 433.25,586.10 433.50,586.54 433.75,586.02 434.00,587.30 434.25,586.29 434.50,586.15 434.75,586.49 435.00,587.30 435.25,587.30 435.50,586.73 435.75,586.07 436.00,587.30 436.25,586.59 436.50,587.30 438.00,587.30 438.25,586.23 438.50,587.30 438.75,587.30 439.00,586.84 439.25,587.30 439.75,587.30 440.00,586.42 440.25,587.30 444.25,587.30 444.50,587.23 444.75,587.30 445.00,586.61 445.25,587.30 447.00,587.30 447.25,586.16 447.50,587.30 447.75,586.85 448.00,587.30 448.50,587.30 448.75,586.90 449.00,587.30 449.25,587.30 449.50,587.06 449.75,586.28 450.00,587.30 450.25,585.82 450.50,587.30 451.75,587.30 452.00,586.46 452.25,587.30 452.50,586.86 452.75,587.04 453.00,587.30 454.00,587.30 454.25,585.89 454.50,586.58 454.75,586.61 455.00,587.30 455.25,587.30 455.50,586.74 455.75,587.30 456.00,586.89 456.25,586.69 456.50,586.28 456.75,587.30 457.00,586.33 457.25,587.30 458.75,587.30 459.00,586.35 459.25,587.30 460.25,587.30 460.50,587.23 460.75,587.30 461.00,587.30 461.25,585.90 461.50,587.30 461.75,586.55 462.00,587.30 463.75,587.30 464.00,586.80 464.25,587.30 464.75,587.30 465.00,586.84 465.25,587.30 465.50,587.30 465.75,587.06 466.00,587.30 466.25,587.30 466.50,587.15 466.75,585.97 467.00,587.30 469.50,587.30 469.75,587.12 470.00,587.30 472.00,587.30 472.25,586.27 472.50,587.30 472.75,587.30 473.00,585.91 473.25,587.30 473.50,585.92 473.75,587.30 474.00,586.84 474.25,587.30 474.75,587.30 475.00,586.07 475.25,587.30 475.50,585.94 475.75,587.30 476.00,586.22 476.25,587.30 476.50,587.30 476.75,587.01 477.00,585.92 477.25,587.30 479.25,587.30 479.50,586.93 479.75,586.17 480.00,586.49 480.25,587.30 480.75,587.30 481.00,586.60 481.25,586.59 481.50,586.81 481.75,587.30 482.00,587.30 482.25,586.16 482.50,587.30 484.50,587.30 484.75,586.71 485.00,587.30 486.75,587.30 487.00,585.98 487.25,586.56 487.50,587.30 488.00,587.30 488.25,586.81 488.50,587.30 489.50,587.30 489.75,586.95 490.00,586.38 490.25,587.30 490.50,586.68 490.75,587.30 491.00,585.84 491.25,586.42 491.50,587.30 491.75,586.98 492.00,587.30 493.25,587.30 493.50,586.06 493.75,587.30 494.00,586.22 494.25,586.70 494.50,587.30 494.75,587.30 495.00,586.07 495.25,587.30 495.75,587.30 496.00,586.95 496.25,587.30 496.50,586.87 496.75,587.30 497.75,587.30 498.00,585.99 498.25,587.30 498.50,586.54 498.75,587.30 499.50,587.30 499.75,586.25 500.00,586.50 500.25,585.89 500.50,587.16 500.75,587.20 500.80,587.30" fill="#222"/>
<line x1="96.50" y1="587.30" x2="500.80" y2="587.30" stroke="#222" stroke-width="1.1"/>
<polygon points="95.00,601.20 99.00,601.20 99.25,600.48 99.50,601.20 99.75,600.52 100.00,600.97 100.25,601.20 108.50,601.20 108.75,600.53 109.00,601.20 110.25,601.20 110.50,600.73 110.75,601.20 112.00,601.20 112.25,600.81 112.50,601.20 116.00,601.20 116.25,600.32 116.50,601.20 127.25,601.20 127.50,600.61 127.75,601.20 129.50,601.20 129.75,600.88 130.00,601.20 132.25,601.20 132.50,600.46 132.75,601.20 133.75,601.20 134.00,599.87 134.25,598.20 134.50,596.53 134.75,594.87 135.00,593.20 135.25,591.53 135.50,592.53 135.75,594.20 136.00,595.87 136.25,597.53 136.50,599.20 136.75,600.87 137.00,601.20 137.75,601.20 138.00,599.56 138.25,597.51 138.50,595.46 138.75,593.41 139.00,591.36 139.25,589.31 139.50,590.54 139.75,592.59 140.00,594.64 140.25,596.69 140.50,598.74 140.75,600.79 141.00,601.20 143.50,601.20 143.75,600.96 144.00,601.20 144.25,601.01 144.50,601.20 146.25,601.20 146.50,600.51 146.75,601.20 149.00,601.20 149.25,600.83 149.50,600.45 149.75,600.08 150.00,599.70 150.25,600.08 150.50,600.45 150.75,600.83 151.00,601.20 157.25,601.20 157.50,601.00 157.75,601.20 159.50,601.20 159.75,600.74 160.00,601.20 160.25,600.54 160.50,601.20 161.50,601.20 161.75,600.71 162.00,601.20 173.00,601.20 173.25,600.39 173.50,601.20 173.75,600.87 174.00,601.20 174.75,601.20 175.00,600.64 175.25,601.20 179.25,601.20 179.50,601.14 179.75,600.38 180.00,601.20 181.75,601.20 182.00,600.23 182.25,601.20 182.75,601.20 183.00,601.08 183.25,601.20 186.25,601.20 186.50,600.57 186.75,601.20 187.25,601.20 187.50,600.46 187.75,601.20 189.00,601.20 189.25,600.64 189.50,601.20 196.50,601.20 196.75,600.48 197.00,601.20 199.25,601.20 199.50,600.63 199.75,599.91 200.00,599.20 200.25,599.91 200.50,600.31 200.75,601.20 201.00,600.41 201.25,601.20 202.75,601.20 203.00,600.42 203.25,601.20 209.50,601.20 209.75,600.83 210.00,601.20 217.00,601.20 217.25,601.02 217.50,601.20 218.00,601.20 218.25,600.29 218.50,601.20 219.50,601.20 219.75,600.73 220.00,601.20 221.75,601.20 222.00,600.89 222.25,601.20 225.00,601.20 225.25,600.71 225.50,601.20 226.75,601.20 227.00,600.47 227.25,601.20 229.25,601.20 229.50,600.63 229.75,599.91 230.00,599.20 230.25,599.91 230.50,600.63 230.75,601.20 243.25,601.20 243.50,600.95 243.75,601.20 244.00,601.20 244.25,600.90 244.50,601.20 248.00,601.20 248.25,600.84 248.50,601.20 256.25,601.20 256.50,601.13 256.75,601.20 265.00,601.20 265.25,601.07 265.50,601.20 265.75,599.91 266.00,597.77 266.25,595.63 266.50,596.91 266.75,599.06 267.00,601.20 268.00,601.20 268.25,600.40 268.50,601.20 270.50,601.20 270.75,601.11 271.00,600.91 271.25,601.20 274.50,601.20 274.75,600.88 275.00,601.20 276.50,601.20 276.75,600.90 277.00,601.20 277.25,600.73 277.50,601.20 283.75,601.20 284.00,600.52 284.25,601.20 288.00,601.20 288.25,600.51 288.50,601.20 294.75,601.20 295.00,600.26 295.25,601.20 295.50,600.78 295.75,601.20 298.00,601.20 298.25,600.34 298.50,601.20 298.75,600.78 299.00,601.20 299.25,601.20 299.50,600.49 299.75,599.59 300.00,598.70 300.25,599.59 300.50,600.49 300.75,601.20 308.00,601.20 308.25,600.73 308.50,601.20 309.25,601.20 309.50,600.55 309.75,601.20 310.00,600.40 310.25,601.20 310.50,600.47 310.75,601.20 314.25,601.20 314.50,600.87 314.75,600.03 315.00,599.20 315.25,600.03 315.50,600.87 315.75,601.20 316.00,601.20 316.25,600.74 316.50,601.20 327.25,601.20 327.50,600.46 327.75,601.20 330.00,601.20 330.25,600.56 330.50,601.20 335.00,601.20 335.25,601.10 335.50,600.69 335.75,601.20 337.00,601.20 337.25,600.52 337.50,601.20 339.25,601.20 339.50,600.49 339.75,599.59 340.00,598.70 340.25,599.59 340.50,600.49 340.75,601.20 344.50,601.20 344.75,600.22 345.00,601.20 345.25,601.20 345.50,600.63 345.75,601.20 353.50,601.20 353.75,601.03 354.00,601.20 359.25,601.20 359.50,600.34 359.75,599.27 360.00,598.20 360.25,599.27 360.50,600.34 360.75,601.20 370.00,601.20 370.25,600.97 370.50,600.60 370.75,601.20 374.00,601.20 374.25,600.99 374.50,601.20 376.75,601.20 377.00,600.86 377.25,601.20 381.25,601.20 381.50,600.53 381.75,598.87 382.00,597.20 382.25,598.87 382.50,600.53 382.75,601.20 383.25,601.20 383.50,600.92 383.75,601.20 384.50,601.20 384.75,601.04 385.00,601.20 385.25,600.43 385.50,601.20 397.25,601.20 397.50,601.08 397.75,601.20 404.25,601.20 404.50,600.62 404.75,599.16 405.00,597.70 405.25,599.16 405.50,600.62 405.75,601.20 410.50,601.20 410.75,600.33 411.00,601.20 416.75,601.20 417.00,600.64 417.25,601.20 418.00,601.20 418.25,600.93 418.50,601.20 419.25,601.20 419.50,600.70 419.75,599.45 420.00,598.20 420.25,599.45 420.50,600.70 420.75,601.20 425.00,601.20 425.25,600.31 425.50,601.20 426.50,601.20 426.75,600.56 427.00,601.20 432.50,601.20 432.75,601.04 433.00,601.20 434.75,601.20 435.00,600.64 435.25,601.20 440.25,601.20 440.50,600.70 440.75,599.45 441.00,598.20 441.25,599.45 441.50,600.70 441.75,601.20 443.00,601.20 443.25,601.05 443.50,601.20 452.50,601.20 452.75,600.89 453.00,601.20 454.50,601.20 454.75,597.20 455.00,593.20 455.25,590.80 455.50,594.80 455.75,598.80 456.00,601.20 460.25,601.20 460.50,600.88 460.75,600.43 461.00,601.20 466.25,601.20 466.50,600.63 466.75,601.20 469.50,601.20 469.75,600.72 470.00,601.20 481.25,601.20 481.50,599.06 481.75,596.38 482.00,593.70 482.25,596.38 482.50,599.06 482.75,601.20 488.00,601.20 488.25,601.03 488.50,601.20 490.00,601.20 490.25,600.53 490.50,601.20 492.00,601.20 492.25,601.02 492.50,601.20 494.25,601.20 494.50,600.70 494.75,600.36 495.00,601.20 499.00,601.20 499.25,600.70 499.50,600.20 499.75,599.70 500.00,599.20 500.25,599.70 500.50,600.20 500.75,600.70 500.80,601.20" fill="#33338a"/>
<line x1="95.00" y1="601.20" x2="500.80" y2="601.20" stroke="#33338a" stroke-width="0.9"/>
</svg></body></html>
